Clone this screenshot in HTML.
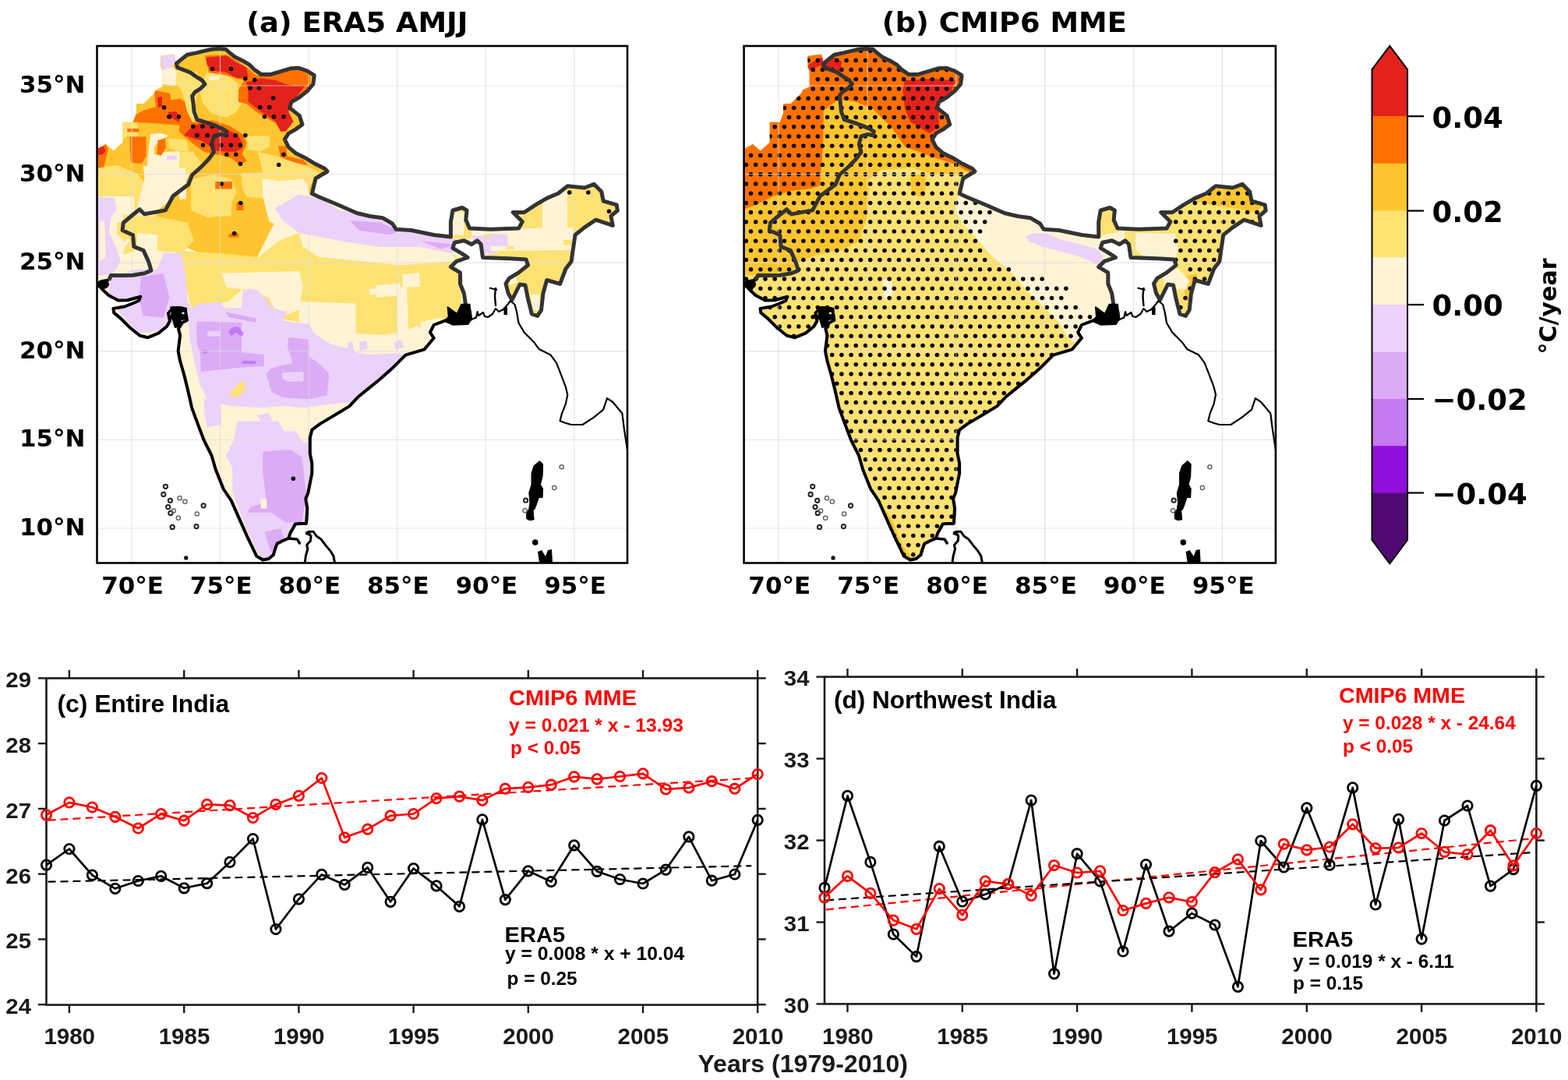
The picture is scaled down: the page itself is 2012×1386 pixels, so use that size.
<!DOCTYPE html><html><head><meta charset="utf-8"><style>
html,body{margin:0;padding:0;background:#fff;width:2012px;height:1386px;overflow:hidden}
svg{display:block}
.mt{font-family:"DejaVu Sans",sans-serif;font-weight:bold;font-size:29.5px;fill:#000}
.ttl{font-family:"DejaVu Sans",sans-serif;font-weight:bold;font-size:35.5px;fill:#000}
.cb{font-family:"DejaVu Sans",sans-serif;font-weight:bold;font-size:37px;fill:#000}
.cbl{font-family:"DejaVu Sans",sans-serif;font-weight:bold;font-size:30px;fill:#000}
.tl{font-family:"Liberation Sans",sans-serif;font-weight:bold;font-size:28.5px;fill:#1a1a1a}
.xt{font-family:"Liberation Sans",sans-serif;font-weight:bold;font-size:29.5px;fill:#1a1a1a}
.pt{font-family:"Liberation Sans",sans-serif;font-weight:bold;font-size:31px;fill:#000}
.rh{font-family:"Liberation Sans",sans-serif;font-weight:bold;font-size:28.3px;fill:#f00}
.rs{font-family:"Liberation Sans",sans-serif;font-weight:bold;font-size:24.4px;fill:#f00}
.kh{font-family:"Liberation Sans",sans-serif;font-weight:bold;font-size:27.6px;fill:#000}
.ks{font-family:"Liberation Sans",sans-serif;font-weight:bold;font-size:24.4px;fill:#000}
.xl{font-family:"Liberation Sans",sans-serif;font-weight:bold;font-size:31.5px;fill:#1a1a1a}
</style></head><body>
<svg width="2012" height="1386" viewBox="0 0 2012 1386">
<defs>
<clipPath id="frame0"><rect x="124.5" y="59.0" width="680.5" height="663.5"/></clipPath>
<clipPath id="data0"><polygon points="139.8,359.4 142.4,353.3 156.0,353.5 170.6,353.3 185.3,350.8 193.9,347.1 192.0,340.0 190.2,334.9 184.1,321.4 171.8,316.5 170.6,301.8 157.1,295.6 158.3,285.8 170.0,276.0 179.2,268.7 185.3,274.8 212.3,269.9 222.1,251.5 241.7,236.8 246.6,224.5 258.9,213.5 268.0,204.0 274.4,195.2 271.8,185.1 274.4,175.0 283.2,172.4 289.5,173.7 290.8,168.7 284.5,164.9 275.6,161.1 265.5,157.3 252.9,153.5 249.1,143.4 247.8,130.8 246.6,123.2 250.4,118.1 258.0,113.1 263.0,108.0 259.2,103.0 252.9,99.2 244.0,92.9 234.0,89.1 227.6,86.6 226.4,81.5 234.0,75.2 240.3,70.2 252.9,67.6 263.0,65.1 271.8,63.2 280.7,62.6 289.5,63.2 294.6,67.6 300.9,72.7 311.0,77.7 319.8,82.8 326.1,89.1 335.0,95.4 347.6,95.4 360.2,91.6 372.8,87.8 383.0,87.2 394.3,91.0 403.2,96.7 401.9,108.0 394.3,116.9 383.0,125.7 374.1,130.8 371.6,138.3 377.9,143.4 384.2,148.4 388.0,159.8 379.2,166.1 370.3,171.2 365.3,178.8 370.3,188.9 379.2,196.4 391.8,202.7 404.4,210.3 417.0,216.6 420.0,220.0 405.0,229.0 400.4,248.4 410.0,253.0 434.0,263.0 458.0,273.5 475.0,277.5 491.4,279.8 503.5,287.0 508.3,294.3 527.7,295.5 556.7,301.5 578.4,304.0 578.4,284.6 580.9,270.0 593.0,266.5 599.0,270.0 597.8,282.2 602.6,293.0 629.2,294.3 665.5,293.0 670.3,284.6 658.2,272.5 672.7,272.5 687.2,262.8 701.7,254.4 716.2,248.3 728.3,238.7 750.0,241.0 762.2,236.3 771.8,246.0 774.2,258.0 791.2,262.8 792.4,270.0 784.0,277.4 786.3,289.4 764.6,282.2 750.0,291.9 738.0,301.5 733.1,335.4 725.9,345.0 718.6,364.4 701.7,359.5 696.9,376.5 694.5,398.2 689.6,405.5 682.4,403.0 677.5,383.7 674.0,366.0 667.0,365.0 663.0,373.0 657.0,385.0 652.0,376.0 649.0,364.0 653.4,357.1 665.5,349.9 677.5,340.2 675.1,333.0 653.4,331.7 619.5,330.5 617.1,313.6 612.3,308.8 605.0,313.6 595.4,308.8 583.3,311.2 580.9,318.4 593.0,325.7 600.2,330.5 585.7,335.4 578.4,342.6 590.5,349.9 590.5,364.4 595.4,376.5 597.8,393.4 597.8,393.4 603.0,400.0 604.0,410.0 596.0,413.0 585.0,412.0 576.0,409.7 556.7,417.0 551.9,426.6 556.7,433.8 544.6,448.3 520.4,455.6 503.5,472.5 484.2,489.4 472.1,499.1 460.0,509.0 448.3,521.4 435.7,529.0 423.0,536.6 410.4,544.1 400.3,551.7 397.8,561.8 397.8,582.0 400.3,594.6 400.3,607.3 395.3,632.5 392.3,640.0 394.2,652.3 393.6,664.5 393.0,671.9 384.4,672.0 378.9,672.5 376.0,678.0 372.5,684.0 370.3,690.9 362.9,694.0 355.6,697.6 353.1,704.4 350.7,712.3 344.5,717.3 337.2,718.5 329.2,713.6 317.0,688.1 306.9,665.4 296.8,642.6 286.7,627.5 276.6,602.2 271.5,584.5 261.4,564.3 253.8,544.1 246.3,523.9 241.2,501.2 236.2,481.0 231.1,463.3 228.6,450.7 231.1,430.5 229.0,422.0 234.0,414.0 240.0,411.0 238.0,399.0 230.0,395.0 222.0,395.0 216.0,402.0 218.0,412.0 214.0,419.0 203.3,427.6 189.8,433.2 179.5,430.8 167.6,421.3 155.7,409.4 146.2,401.4 145.4,395.9 159.7,393.5 170.0,389.5 178.0,386.0 180.3,380.8 163.7,385.2 151.7,385.6 139.8,379.2 131.9,372.0 127.0,366.0 131.0,361.0 139.8,359.4"/><polygon points="123.5,190.0 126.2,190.3 135.9,184.9 145.6,193.5 157.5,182.7 157.5,156.7 170.5,156.7 174.9,144.8 174.9,132.9 184.6,132.9 197.6,120.0 199.8,115.6 208.4,111.3 208.4,90.7 206.3,85.3 206.0,72.0 216.0,70.5 224.0,70.0 226.4,81.5 227.6,86.6 234.0,89.1 244.0,92.9 252.9,99.2 259.2,103.0 263.0,108.0 258.0,113.1 250.4,118.1 246.6,123.2 247.8,130.8 249.1,143.4 252.9,153.5 265.5,157.3 275.6,161.1 284.5,164.9 290.8,168.7 289.5,173.7 283.2,172.4 274.4,175.0 271.8,185.1 274.4,195.2 268.0,204.0 258.9,213.5 246.6,224.5 241.7,236.8 222.1,251.5 212.3,269.9 185.3,274.8 179.2,268.7 170.0,276.0 158.3,285.8 157.1,295.6 170.6,301.8 171.8,316.5 184.1,321.4 190.2,334.9 192.0,340.0 193.9,347.1 185.3,350.8 170.6,353.3 156.0,353.5 142.4,353.3 139.8,359.4 131.0,361.0 123.5,362.0"/></clipPath>
<clipPath id="frame830"><rect x="954.5" y="59.0" width="680.5" height="663.5"/></clipPath>
<clipPath id="data830"><polygon points="969.8,359.4 972.4,353.3 986.0,353.5 1000.6,353.3 1015.3,350.8 1023.9,347.1 1022.0,340.0 1020.2,334.9 1014.1,321.4 1001.8,316.5 1000.6,301.8 987.1,295.6 988.3,285.8 1000.0,276.0 1009.2,268.7 1015.3,274.8 1042.3,269.9 1052.1,251.5 1071.7,236.8 1076.6,224.5 1088.9,213.5 1098.0,204.0 1104.4,195.2 1101.8,185.1 1104.4,175.0 1113.2,172.4 1119.5,173.7 1120.8,168.7 1114.5,164.9 1105.6,161.1 1095.5,157.3 1082.9,153.5 1079.1,143.4 1077.8,130.8 1076.6,123.2 1080.4,118.1 1088.0,113.1 1093.0,108.0 1089.2,103.0 1082.9,99.2 1074.0,92.9 1064.0,89.1 1057.6,86.6 1056.4,81.5 1064.0,75.2 1070.3,70.2 1082.9,67.6 1093.0,65.1 1101.8,63.2 1110.7,62.6 1119.5,63.2 1124.6,67.6 1130.9,72.7 1141.0,77.7 1149.8,82.8 1156.1,89.1 1165.0,95.4 1177.6,95.4 1190.2,91.6 1202.8,87.8 1213.0,87.2 1224.3,91.0 1233.2,96.7 1231.9,108.0 1224.3,116.9 1213.0,125.7 1204.1,130.8 1201.6,138.3 1207.9,143.4 1214.2,148.4 1218.0,159.8 1209.2,166.1 1200.3,171.2 1195.3,178.8 1200.3,188.9 1209.2,196.4 1221.8,202.7 1234.4,210.3 1247.0,216.6 1250.0,220.0 1235.0,229.0 1230.4,248.4 1240.0,253.0 1264.0,263.0 1288.0,273.5 1305.0,277.5 1321.4,279.8 1333.5,287.0 1338.3,294.3 1357.7,295.5 1386.7,301.5 1408.4,304.0 1408.4,284.6 1410.9,270.0 1423.0,266.5 1429.0,270.0 1427.8,282.2 1432.6,293.0 1459.2,294.3 1495.5,293.0 1500.3,284.6 1488.2,272.5 1502.7,272.5 1517.2,262.8 1531.7,254.4 1546.2,248.3 1558.3,238.7 1580.0,241.0 1592.2,236.3 1601.8,246.0 1604.2,258.0 1621.2,262.8 1622.4,270.0 1614.0,277.4 1616.3,289.4 1594.6,282.2 1580.0,291.9 1568.0,301.5 1563.1,335.4 1555.9,345.0 1548.6,364.4 1531.7,359.5 1526.9,376.5 1524.5,398.2 1519.6,405.5 1512.4,403.0 1507.5,383.7 1504.0,366.0 1497.0,365.0 1493.0,373.0 1487.0,385.0 1482.0,376.0 1479.0,364.0 1483.4,357.1 1495.5,349.9 1507.5,340.2 1505.1,333.0 1483.4,331.7 1449.5,330.5 1447.1,313.6 1442.3,308.8 1435.0,313.6 1425.4,308.8 1413.3,311.2 1410.9,318.4 1423.0,325.7 1430.2,330.5 1415.7,335.4 1408.4,342.6 1420.5,349.9 1420.5,364.4 1425.4,376.5 1427.8,393.4 1427.8,393.4 1433.0,400.0 1434.0,410.0 1426.0,413.0 1415.0,412.0 1406.0,409.7 1386.7,417.0 1381.9,426.6 1386.7,433.8 1374.6,448.3 1350.4,455.6 1333.5,472.5 1314.2,489.4 1302.1,499.1 1290.0,509.0 1278.3,521.4 1265.7,529.0 1253.0,536.6 1240.4,544.1 1230.3,551.7 1227.8,561.8 1227.8,582.0 1230.3,594.6 1230.3,607.3 1225.3,632.5 1222.3,640.0 1224.2,652.3 1223.6,664.5 1223.0,671.9 1214.4,672.0 1208.9,672.5 1206.0,678.0 1202.5,684.0 1200.3,690.9 1192.9,694.0 1185.6,697.6 1183.1,704.4 1180.7,712.3 1174.5,717.3 1167.2,718.5 1159.2,713.6 1147.0,688.1 1136.9,665.4 1126.8,642.6 1116.7,627.5 1106.6,602.2 1101.5,584.5 1091.4,564.3 1083.8,544.1 1076.3,523.9 1071.2,501.2 1066.2,481.0 1061.1,463.3 1058.6,450.7 1061.1,430.5 1059.0,422.0 1064.0,414.0 1070.0,411.0 1068.0,399.0 1060.0,395.0 1052.0,395.0 1046.0,402.0 1048.0,412.0 1044.0,419.0 1033.3,427.6 1019.8,433.2 1009.5,430.8 997.6,421.3 985.7,409.4 976.2,401.4 975.4,395.9 989.7,393.5 1000.0,389.5 1008.0,386.0 1010.3,380.8 993.7,385.2 981.7,385.6 969.8,379.2 961.9,372.0 957.0,366.0 961.0,361.0 969.8,359.4"/><polygon points="953.5,190.0 956.2,190.3 965.9,184.9 975.6,193.5 987.5,182.7 987.5,156.7 1000.5,156.7 1004.9,144.8 1004.9,132.9 1014.6,132.9 1027.6,120.0 1029.8,115.6 1038.4,111.3 1038.4,90.7 1036.3,85.3 1036.0,72.0 1046.0,70.5 1054.0,70.0 1056.4,81.5 1057.6,86.6 1064.0,89.1 1074.0,92.9 1082.9,99.2 1089.2,103.0 1093.0,108.0 1088.0,113.1 1080.4,118.1 1076.6,123.2 1077.8,130.8 1079.1,143.4 1082.9,153.5 1095.5,157.3 1105.6,161.1 1114.5,164.9 1120.8,168.7 1119.5,173.7 1113.2,172.4 1104.4,175.0 1101.8,185.1 1104.4,195.2 1098.0,204.0 1088.9,213.5 1076.6,224.5 1071.7,236.8 1052.1,251.5 1042.3,269.9 1015.3,274.8 1009.2,268.7 1000.0,276.0 988.3,285.8 987.1,295.6 1000.6,301.8 1001.8,316.5 1014.1,321.4 1020.2,334.9 1022.0,340.0 1023.9,347.1 1015.3,350.8 1000.6,353.3 986.0,353.5 972.4,353.3 969.8,359.4 961.0,361.0 953.5,362.0"/></clipPath>
</defs>
<text transform="translate(458.3,40.8) scale(1.037,1)" class="ttl" text-anchor="middle">(a) ERA5 AMJJ</text>
<text transform="translate(1288.8,40.8) scale(1.037,1)" class="ttl" text-anchor="middle">(b) CMIP6 MME</text>
<g clip-path="url(#frame0)">
<g clip-path="url(#data0)">
<rect x="124.5" y="59.0" width="680.5" height="663.5" fill="#fef4d5"/>
<polygon points="124.0,150.0 200.0,60.0 420.0,60.0 420.0,220.0 405.0,230.0 400.0,250.0 370.0,258.0 350.0,290.0 330.0,330.0 300.0,335.0 270.0,330.0 240.0,318.0 200.0,300.0 160.0,290.0 124.0,285.0" fill="#fdc52f"/>
<polygon points="124.0,215.0 150.0,212.0 175.0,222.0 190.0,240.0 200.0,270.0 205.0,300.0 180.0,320.0 150.0,330.0 124.0,330.0" fill="#fde273"/>
<polygon points="124.0,252.0 172.0,252.0 172.0,300.0 160.0,318.0 155.0,340.0 140.0,356.0 124.0,356.0" fill="#fef4d5"/>
<polygon points="126.5,254.0 146.0,256.4 148.5,267.4 142.4,279.7 140.0,298.0 148.5,316.5 154.7,334.9 148.5,347.1 136.3,353.3 124.0,353.3 124.0,254.0" fill="#ecd1fa"/>
<polygon points="130.0,257.0 145.0,258.0 146.0,262.0 131.0,262.0" fill="#dcabf5"/>
<polygon points="128.0,285.0 134.0,283.0 136.0,330.0 128.0,335.0" fill="#fef4d5"/>
<polygon points="150.0,286.0 168.0,283.0 171.0,300.0 160.0,310.0 150.0,300.0" fill="#fde273"/>
<polygon points="193.3,172.0 207.1,170.8 216.4,174.3 204.8,180.0 197.9,189.3 197.9,198.5 210.6,195.0 227.9,193.9 239.5,200.8 244.1,221.6 237.2,235.5 227.9,247.0 216.4,258.6 204.8,267.8 193.3,280.0 173.6,280.0 178.3,258.6 184.0,235.5 188.7,212.4 191.0,189.3" fill="#fef4d5"/>
<polygon points="214.1,199.7 226.8,199.7 226.8,205.4 214.1,205.4" fill="#ecd1fa"/>
<polygon points="186.3,214.7 193.3,214.7 193.3,221.6 186.3,221.6" fill="#ecd1fa"/>
<polygon points="126.3,252.8 147.1,253.9 149.4,270.1 141.3,280.0 126.3,280.0" fill="#ecd1fa"/>
<polygon points="156.3,154.6 176.0,155.8 177.1,175.4 164.4,174.3 156.3,180.0" fill="#fde273"/>
<polygon points="216.4,177.7 239.5,180.0 241.8,193.9 227.9,193.9 216.4,189.3" fill="#fde273"/>
<polygon points="245.2,229.7 274.1,223.9 297.2,229.7 304.0,247.0 291.4,270.1 268.3,280.0 245.2,270.1" fill="#fde273"/>
<polygon points="197.6,115.6 218.2,119.9 219.2,128.6 231.1,126.4 237.6,130.8 246.3,141.6 246.3,158.9 232.2,161.1 210.6,158.9 188.9,157.8 170.5,156.7 174.9,147.0 184.6,141.6 199.8,137.3" fill="#fe7100"/>
<polygon points="206.0,72.0 228.0,70.0 226.0,80.0 218.0,88.0 208.0,90.0" fill="#ecd1fa"/>
<polygon points="208.0,90.0 222.0,86.0 230.0,95.0 232.0,105.0 224.0,110.0 208.0,108.0" fill="#fef4d5"/>
<polygon points="202.0,125.0 208.0,124.0 208.0,137.0 203.0,138.0" fill="#e3221c"/>
<polygon points="216.0,144.0 226.0,143.0 234.0,153.0 230.0,157.0 222.0,152.0 216.0,150.0" fill="#e3221c"/>
<polygon points="166.7,175.4 187.5,175.4 187.5,200.8 181.7,210.1 167.9,208.9 166.7,189.3" fill="#fe7100"/>
<polygon points="202.5,180.0 211.7,177.7 212.9,189.3 207.1,199.7 201.4,198.5" fill="#fe7100"/>
<polygon points="163.3,165.0 178.3,165.0 178.3,169.6 163.3,169.6" fill="#fe7100"/>
<polygon points="124.0,185.8 135.5,184.1 139.0,191.6 136.7,200.8 133.2,214.7 124.0,215.8" fill="#fe7100"/>
<polygon points="124.0,189.3 133.2,188.1 135.5,193.9 130.9,198.5 124.0,198.5" fill="#e3221c"/>
<polygon points="227.6,86.6 252.9,92.9 263.0,108.0 252.9,120.7 250.4,137.1 256.7,153.5 246.6,156.0 240.3,143.4 233.9,118.1 225.1,105.5" fill="#fde273"/>
<polygon points="265.5,92.9 290.8,96.7 303.4,105.5 311.0,130.8 303.4,143.4 290.8,151.0 271.8,145.9 259.2,130.8 255.4,111.8" fill="#fde273"/>
<polygon points="268.0,97.9 280.7,97.9 280.7,103.0 268.0,103.0" fill="#fef4d5"/>
<polygon points="263.0,71.4 290.8,70.2 303.4,77.7 318.5,87.8 328.7,96.7 341.3,96.7 360.2,91.6 379.2,87.8 398.1,92.9 398.1,115.6 379.2,133.3 370.3,143.4 372.8,162.3 360.2,168.7 353.9,158.5 328.7,143.4 316.0,133.3 305.9,130.8 305.9,115.6 313.5,103.0 290.8,96.7 268.0,92.9" fill="#fe7100"/>
<polygon points="264.2,73.9 290.8,71.4 303.4,80.3 316.0,86.6 318.5,99.2 303.4,100.5 290.8,92.9 271.8,90.4 265.5,82.8" fill="#e3221c"/>
<polygon points="316.0,105.5 335.0,100.5 353.9,103.0 366.5,108.0 379.2,110.6 391.8,109.3 379.2,125.7 372.8,133.3 370.3,143.4 376.6,156.0 366.5,168.7 360.2,168.7 353.9,156.0 335.0,143.4 318.5,130.8 318.5,118.1" fill="#e3221c"/>
<polygon points="366.5,96.7 385.5,92.9 394.3,103.0 385.5,108.0 372.8,108.0" fill="#fe7100"/>
<polygon points="230.0,148.7 244.4,157.3 273.3,154.4 295.0,161.7 310.8,171.8 316.6,183.3 310.8,197.7 316.6,206.4 307.9,212.2 297.8,203.5 284.8,199.2 273.3,197.7 261.8,194.8 251.7,187.6 235.8,174.6 230.0,168.9" fill="#fe7100"/>
<polygon points="235.8,173.2 247.3,161.7 261.8,157.3 277.6,161.7 290.6,166.0 305.1,173.2 310.8,183.3 310.8,190.5 302.2,194.8 290.6,194.8 277.6,193.4 267.5,186.2 258.9,180.4 247.3,177.5" fill="#e3221c"/>
<polygon points="357.0,187.6 367.1,187.6 368.6,200.6 388.8,205.0 396.0,212.2 374.3,207.8 359.9,202.1" fill="#fe7100"/>
<polygon points="276.2,233.1 297.8,233.1 297.8,242.5 276.2,242.5" fill="#fe7100"/>
<polygon points="303.6,259.8 312.3,259.8 312.3,269.9 303.6,269.9" fill="#fe7100"/>
<polygon points="293.5,301.7 299.3,297.3 306.5,300.2 306.5,304.5 293.5,304.5" fill="#fe7100"/>
<polygon points="316.6,174.6 345.5,174.6 346.9,187.6 333.9,194.8 318.0,192.0" fill="#fde273"/>
<polygon points="309.4,222.3 352.7,220.8 357.0,241.0 345.5,255.5 316.6,252.6 310.8,241.0" fill="#fde273"/>
<polygon points="247.3,246.8 273.3,243.9 297.8,249.7 296.4,277.1 273.3,278.6 248.8,269.9" fill="#fde273"/>
<polygon points="331.0,194.8 359.9,202.1 396.0,215.1 410.4,220.8 396.0,241.0 359.9,233.8 338.3,226.6" fill="#fde273"/>
<polygon points="336.8,229.5 359.9,232.4 388.8,229.5 396.0,241.0 397.4,252.6 374.3,264.1 367.1,277.1 359.9,291.6 345.5,284.3 339.7,262.7 336.8,248.3" fill="#fef4d5"/>
<polygon points="230.0,194.8 247.3,194.8 258.9,209.3 247.3,220.8 230.0,226.6" fill="#fde273"/>
<polygon points="230.0,220.8 238.7,220.8 238.7,255.5 230.0,255.5" fill="#fef4d5"/>
<polygon points="157.8,275.3 201.9,277.9 240.9,285.7 248.7,309.1 233.1,324.7 201.9,322.1 175.9,314.3 160.4,303.9" fill="#fde273"/>
<polygon points="175.9,298.7 201.9,301.3 201.9,322.1 175.9,319.5" fill="#fef4d5"/>
<polygon points="183.7,213.0 238.3,215.6 235.7,233.8 186.3,233.8" fill="#fef4d5"/>
<polygon points="227.9,322.1 279.8,324.7 331.8,329.9 357.8,309.1 383.7,298.7 435.7,309.1 487.6,316.9 539.6,316.9 578.5,324.7 594.1,335.1 591.5,387.0 586.3,415.6 565.6,420.8 513.6,449.4 461.7,449.4 422.7,444.2 396.7,433.8 383.7,413.0 352.6,407.8 331.8,381.8 311.0,371.4 292.8,387.0 246.1,397.4 235.7,355.8" fill="#fde273"/>
<polygon points="285.0,350.6 383.7,348.1 388.9,366.2 383.7,397.4 357.8,407.8 344.8,381.8 313.6,371.4 290.2,368.8" fill="#fef4d5"/>
<polygon points="383.7,298.7 435.7,309.1 487.6,316.9 539.6,316.9 578.5,324.7 586.3,335.1 513.6,340.3 461.7,335.1 409.7,329.9 388.9,316.9" fill="#fef4d5"/>
<polygon points="383.7,387.0 456.5,389.6 456.5,449.4 422.7,444.2 396.7,433.8 383.7,415.6" fill="#fef4d5"/>
<polygon points="513.6,423.4 581.1,415.6 578.5,446.8 513.6,453.2" fill="#fef4d5"/>
<polygon points="482.4,366.2 513.6,363.6 513.6,379.2 482.4,381.8" fill="#fef4d5"/>
<polygon points="539.6,413.0 565.6,407.8 581.1,415.6 565.6,426.0 539.6,433.8" fill="#fef4d5"/>
<polygon points="352.6,267.5 383.7,249.4 409.7,254.5 435.7,270.1 474.6,277.9 513.6,288.3 552.6,301.3 586.3,306.5 591.5,322.1 578.5,324.7 539.6,316.9 487.6,316.9 435.7,309.1 383.7,298.7 363.0,283.1" fill="#ecd1fa"/>
<polygon points="448.7,283.1 487.6,285.7 513.6,296.1 500.6,301.3 461.7,296.1" fill="#dcabf5"/>
<polygon points="539.6,309.1 565.6,311.7 586.3,314.3 565.6,319.5" fill="#dcabf5"/>
<polygon points="509.0,370.0 522.0,366.0 524.0,420.0 520.0,449.0 510.0,449.0" fill="#fef4d5"/>
<polygon points="516.0,352.0 538.0,350.0 539.0,368.0 517.0,369.0" fill="#fef4d5"/>
<polygon points="474.0,371.0 486.0,370.0 486.0,378.0 474.0,378.0" fill="#fef4d5"/>
<polygon points="440.0,430.0 456.0,428.0 490.0,430.0 515.0,427.0 535.0,418.0 545.0,425.0 540.0,445.0 520.0,455.0 440.0,455.0" fill="#fef4d5"/>
<polygon points="446.0,440.0 452.0,438.0 455.0,452.0 446.0,452.0" fill="#ecd1fa"/>
<polygon points="461.0,439.0 470.0,437.0 472.0,448.0 462.0,450.0" fill="#ecd1fa"/>
<polygon points="139.6,355.8 175.9,345.5 201.9,345.5 209.7,324.7 233.1,324.7 238.3,355.8 240.9,387.0 246.1,397.4 233.1,413.0 209.7,423.4 175.9,428.6 155.2,402.6 139.6,381.8" fill="#ecd1fa"/>
<polygon points="181.1,355.8 209.7,350.6 217.5,381.8 209.7,407.8 183.7,405.2 178.5,381.8" fill="#dcabf5"/>
<polygon points="240.0,404.0 245.0,398.0 250.0,392.0 256.5,389.2 282.6,387.8 289.4,396.0 310.0,394.7 311.3,374.1 321.0,370.0 330.0,372.0 341.5,383.7 348.4,394.7 368.9,400.2 362.1,411.1 375.8,413.9 396.3,415.2 403.2,427.6 423.7,441.3 444.3,446.8 458.0,452.2 475.0,455.0 513.6,453.2 530.0,460.0 470.0,520.0 444.3,516.7 416.9,519.4 389.5,523.5 362.1,520.8 334.6,523.5 293.5,520.8 266.1,513.9 263.4,507.1 256.5,493.4 249.7,465.9 244.2,438.5 241.4,411.1" fill="#ecd1fa"/>
<polygon points="252.4,412.5 310.0,413.9 310.0,452.2 338.8,455.0 338.8,470.1 310.0,471.4 257.9,476.9 256.5,452.2 252.4,438.5" fill="#dcabf5"/>
<polygon points="266.1,424.8 282.6,424.8 282.6,431.7 266.1,431.7" fill="#ecd1fa"/>
<polygon points="289.4,400.2 329.2,408.4 327.8,413.9 293.5,407.0" fill="#dcabf5"/>
<polygon points="370.3,433.0 396.3,435.8 396.3,457.7 408.7,465.9 422.4,479.6 419.6,507.1 396.3,512.5 362.1,509.8 348.4,503.0 341.5,479.6 348.4,472.8 362.1,468.7 375.8,465.9 368.9,445.4" fill="#dcabf5"/>
<polygon points="362.0,478.0 389.5,477.0 389.5,489.0 370.0,490.0 362.0,486.0" fill="#ecd1fa"/>
<polygon points="293.5,425.0 298.0,420.0 306.0,419.3 312.7,428.0 310.0,431.7 303.0,427.0 296.0,431.7" fill="#c47af0"/>
<polygon points="311.0,463.0 328.0,463.0 328.0,467.0 311.0,467.0" fill="#c47af0"/>
<polygon points="260.6,449.5 266.0,449.5 266.0,453.6 260.6,453.6" fill="#c47af0"/>
<polygon points="293.5,507.1 304.0,494.0 312.7,487.9 315.0,500.0 305.0,510.0" fill="#fde273"/>
<polygon points="505.0,440.0 515.0,436.0 518.0,446.0 508.0,449.0" fill="#ecd1fa"/>
<polygon points="304.7,540.6 356.6,540.6 364.7,553.6 379.4,553.6 389.1,568.2 400.0,566.0 400.0,640.0 393.0,672.0 378.0,672.0 370.0,690.0 355.0,697.0 350.0,712.0 344.0,717.0 336.0,718.0 327.4,702.9 316.0,678.6 306.3,654.2 298.2,629.9 298.2,600.6 290.0,584.4 299.8,564.9" fill="#ecd1fa"/>
<polygon points="262.0,512.0 283.0,514.0 284.0,545.0 266.0,548.0 262.0,530.0" fill="#ecd1fa"/>
<polygon points="330.0,533.0 345.0,530.0 350.0,540.0 335.0,541.0" fill="#ecd1fa"/>
<polygon points="337.2,579.5 372.5,577.0 387.7,587.1 392.7,632.5 387.7,670.4 367.5,670.4 347.3,657.8 317.0,657.8 322.0,650.2 342.2,645.2 337.2,607.3" fill="#dcabf5"/>
<polygon points="339.7,683.0 359.9,678.0 367.5,698.2 347.3,708.3" fill="#dcabf5"/>
<polygon points="334.6,640.1 342.2,640.1 342.2,652.7 334.6,652.7" fill="#fef4d5"/>
<polygon points="576.0,260.4 605.0,260.4 605.0,306.4 576.0,306.4" fill="#fde273"/>
<polygon points="578.4,272.5 595.4,272.5 595.4,301.5 578.4,301.5" fill="#fef4d5"/>
<polygon points="619.5,301.5 677.5,291.9 701.7,253.2 738.0,233.8 774.2,236.3 798.4,260.4 793.6,284.6 738.0,301.5 733.1,335.4 701.7,369.2 689.6,405.5 672.7,369.2 653.4,357.1 665.5,335.4 629.2,332.9" fill="#fde273"/>
<polygon points="605.0,301.5 629.2,303.9 643.7,311.2 638.9,325.7 619.5,325.7 609.9,316.0" fill="#ecd1fa"/>
<polygon points="640.0,230.0 800.0,230.0 800.0,410.0 640.0,410.0" fill="#fde273"/>
<polygon points="696.0,246.0 712.0,240.0 728.0,244.0 728.0,294.0 696.0,296.0" fill="#fef4d5"/>
<polygon points="630.0,294.0 736.0,292.0 736.0,321.0 630.0,322.0" fill="#fef4d5"/>
<polygon points="722.8,307.8 733.5,307.8 733.5,314.5 722.8,314.5" fill="#fde273"/>
<polygon points="650.0,316.0 660.0,316.0 660.0,320.0 650.0,320.0" fill="#fde273"/>
<polygon points="681.0,378.0 692.0,378.0 693.4,398.6 684.0,398.0" fill="#fef4d5"/>
<polygon points="650.0,356.0 660.0,352.0 664.0,362.0 655.0,366.0" fill="#fef4d5"/>
<polygon points="630.0,300.0 650.7,301.0 652.0,315.8 630.0,316.0" fill="#ecd1fa"/>
<g fill="#000"><circle cx="272.5" cy="88.5" r="2.75"/><circle cx="296.4" cy="88.5" r="2.75"/><circle cx="314.8" cy="101.1" r="2.75"/><circle cx="326.8" cy="102.4" r="2.75"/><circle cx="321.1" cy="113.1" r="2.75"/><circle cx="332.4" cy="113.1" r="2.75"/><circle cx="350.7" cy="125.7" r="2.75"/><circle cx="333.7" cy="137.7" r="2.75"/><circle cx="345.7" cy="137.7" r="2.75"/><circle cx="339.4" cy="149.7" r="2.75"/><circle cx="351.4" cy="149.7" r="2.75"/><circle cx="364.0" cy="149.7" r="2.75"/><circle cx="247.8" cy="162.3" r="2.75"/><circle cx="259.8" cy="162.3" r="2.75"/><circle cx="272.5" cy="162.3" r="2.75"/><circle cx="252.9" cy="173.7" r="2.75"/><circle cx="266.1" cy="173.7" r="2.75"/><circle cx="278.1" cy="173.7" r="2.75"/><circle cx="290.1" cy="173.7" r="2.75"/><circle cx="302.1" cy="173.7" r="2.75"/><circle cx="314.8" cy="173.7" r="2.75"/><circle cx="260.5" cy="186.3" r="2.75"/><circle cx="271.8" cy="186.3" r="2.75"/><circle cx="283.8" cy="186.3" r="2.75"/><circle cx="296.4" cy="186.3" r="2.75"/><circle cx="308.4" cy="186.3" r="2.75"/><circle cx="290.8" cy="198.3" r="2.75"/><circle cx="302.8" cy="198.3" r="2.75"/><circle cx="308.4" cy="210.3" r="2.75"/><circle cx="364.0" cy="198.3" r="2.75"/><circle cx="357.7" cy="211.6" r="2.75"/><circle cx="217.5" cy="149.7" r="2.75"/><circle cx="229.5" cy="149.7" r="2.75"/><circle cx="210.6" cy="137.9" r="2.75"/><circle cx="216.9" cy="149.8" r="2.75"/><circle cx="284.1" cy="236.0" r="2.75"/><circle cx="308.7" cy="260.5" r="2.75"/><circle cx="300.7" cy="299.5" r="2.75"/><circle cx="730.7" cy="247.1" r="2.75"/><circle cx="754.9" cy="247.1" r="2.75"/><circle cx="781.5" cy="271.3" r="2.75"/><circle cx="376.3" cy="614.3" r="2.75"/></g>
</g>
<line x1="168.9" y1="59.0" x2="168.9" y2="722.5" stroke="#dcdcdc" stroke-width="1.2" stroke-opacity="0.7"/>
<line x1="282.5" y1="59.0" x2="282.5" y2="722.5" stroke="#dcdcdc" stroke-width="1.2" stroke-opacity="0.7"/>
<line x1="396.1" y1="59.0" x2="396.1" y2="722.5" stroke="#dcdcdc" stroke-width="1.2" stroke-opacity="0.7"/>
<line x1="509.6" y1="59.0" x2="509.6" y2="722.5" stroke="#dcdcdc" stroke-width="1.2" stroke-opacity="0.7"/>
<line x1="623.2" y1="59.0" x2="623.2" y2="722.5" stroke="#dcdcdc" stroke-width="1.2" stroke-opacity="0.7"/>
<line x1="736.8" y1="59.0" x2="736.8" y2="722.5" stroke="#dcdcdc" stroke-width="1.2" stroke-opacity="0.7"/>
<line x1="124.5" y1="678.0" x2="805.0" y2="678.0" stroke="#dcdcdc" stroke-width="1.2" stroke-opacity="0.7"/>
<line x1="124.5" y1="564.4" x2="805.0" y2="564.4" stroke="#dcdcdc" stroke-width="1.2" stroke-opacity="0.7"/>
<line x1="124.5" y1="450.8" x2="805.0" y2="450.8" stroke="#dcdcdc" stroke-width="1.2" stroke-opacity="0.7"/>
<line x1="124.5" y1="337.2" x2="805.0" y2="337.2" stroke="#dcdcdc" stroke-width="1.2" stroke-opacity="0.7"/>
<line x1="124.5" y1="223.6" x2="805.0" y2="223.6" stroke="#dcdcdc" stroke-width="1.2" stroke-opacity="0.7"/>
<line x1="124.5" y1="110.0" x2="805.0" y2="110.0" stroke="#dcdcdc" stroke-width="1.2" stroke-opacity="0.7"/>
<polyline points="597.8,393.4 603.0,400.0 604.0,410.0 596.0,413.0 585.0,412.0 576.0,409.7 556.7,417.0 551.9,426.6 556.7,433.8 544.6,448.3 520.4,455.6 503.5,472.5 484.2,489.4 472.1,499.1 460.0,509.0 448.3,521.4 435.7,529.0 423.0,536.6 410.4,544.1 400.3,551.7 397.8,561.8 397.8,582.0 400.3,594.6 400.3,607.3 395.3,632.5 392.3,640.0 394.2,652.3 393.6,664.5 393.0,671.9 384.4,672.0 378.9,672.5 376.0,678.0 372.5,684.0 370.3,690.9 362.9,694.0 355.6,697.6 353.1,704.4 350.7,712.3 344.5,717.3 337.2,718.5 329.2,713.6 317.0,688.1 306.9,665.4 296.8,642.6 286.7,627.5 276.6,602.2 271.5,584.5 261.4,564.3 253.8,544.1 246.3,523.9 241.2,501.2 236.2,481.0 231.1,463.3 228.6,450.7 231.1,430.5 229.0,422.0 234.0,414.0 240.0,411.0 238.0,399.0 230.0,395.0 222.0,395.0 216.0,402.0 218.0,412.0 214.0,419.0 203.3,427.6 189.8,433.2 179.5,430.8 167.6,421.3 155.7,409.4 146.2,401.4 145.4,395.9 159.7,393.5 170.0,389.5 178.0,386.0 180.3,380.8 163.7,385.2 151.7,385.6 139.8,379.2 131.9,372.0 127.0,366.0 131.0,361.0 139.8,359.4" fill="none" stroke="#000" stroke-width="4" stroke-linejoin="round"/>
<polyline points="139.8,359.4 142.4,353.3 156.0,353.5 170.6,353.3 185.3,350.8 193.9,347.1 192.0,340.0 190.2,334.9 184.1,321.4 171.8,316.5 170.6,301.8 157.1,295.6 158.3,285.8 170.0,276.0 179.2,268.7 185.3,274.8 212.3,269.9 222.1,251.5 241.7,236.8 246.6,224.5 258.9,213.5 268.0,204.0 274.4,195.2 271.8,185.1 274.4,175.0 283.2,172.4 289.5,173.7 290.8,168.7 284.5,164.9 275.6,161.1 265.5,157.3 252.9,153.5 249.1,143.4 247.8,130.8 246.6,123.2 250.4,118.1 258.0,113.1 263.0,108.0 259.2,103.0 252.9,99.2 244.0,92.9 234.0,89.1 227.6,86.6 226.4,81.5 234.0,75.2 240.3,70.2 252.9,67.6 263.0,65.1 271.8,63.2 280.7,62.6 289.5,63.2 294.6,67.6 300.9,72.7 311.0,77.7 319.8,82.8 326.1,89.1 335.0,95.4 347.6,95.4 360.2,91.6 372.8,87.8 383.0,87.2 394.3,91.0 403.2,96.7 401.9,108.0 394.3,116.9 383.0,125.7 374.1,130.8 371.6,138.3 377.9,143.4 384.2,148.4 388.0,159.8 379.2,166.1 370.3,171.2 365.3,178.8 370.3,188.9 379.2,196.4 391.8,202.7 404.4,210.3 417.0,216.6 420.0,220.0 405.0,229.0 400.4,248.4 410.0,253.0 434.0,263.0 458.0,273.5 475.0,277.5 491.4,279.8 503.5,287.0 508.3,294.3 527.7,295.5 556.7,301.5 578.4,304.0 578.4,284.6 580.9,270.0 593.0,266.5 599.0,270.0 597.8,282.2 602.6,293.0 629.2,294.3 665.5,293.0 670.3,284.6 658.2,272.5 672.7,272.5 687.2,262.8 701.7,254.4 716.2,248.3 728.3,238.7 750.0,241.0 762.2,236.3 771.8,246.0 774.2,258.0 791.2,262.8 792.4,270.0 784.0,277.4 786.3,289.4 764.6,282.2 750.0,291.9 738.0,301.5 733.1,335.4 725.9,345.0 718.6,364.4 701.7,359.5 696.9,376.5 694.5,398.2 689.6,405.5 682.4,403.0 677.5,383.7 674.0,366.0 667.0,365.0 663.0,373.0 657.0,385.0 652.0,376.0 649.0,364.0 653.4,357.1 665.5,349.9 677.5,340.2 675.1,333.0 653.4,331.7 619.5,330.5 617.1,313.6 612.3,308.8 605.0,313.6 595.4,308.8 583.3,311.2 580.9,318.4 593.0,325.7 600.2,330.5 585.7,335.4 578.4,342.6 590.5,349.9 590.5,364.4 595.4,376.5 597.8,393.4" fill="none" stroke="#333" stroke-width="5" stroke-linejoin="round"/>
<polyline points="655.0,386.0 660.6,391.0 663.0,400.0 665.5,414.5 672.7,426.6 684.8,438.7 692.0,448.3 706.6,455.6 713.8,465.3 718.6,477.4 725.9,496.7 728.3,506.4 725.9,518.4 721.0,530.5 718.6,540.2 726.0,543.0 733.1,545.0 747.6,545.0 762.2,535.4 774.2,525.7 779.0,511.2 786.3,516.0 798.4,530.5 800.8,549.9 805.2,578.9" fill="none" stroke="#000" stroke-width="2.2" stroke-linejoin="round"/>
<polyline points="605.0,410.0 611.0,407.6 612.6,400.0 614.0,405.0 620.0,401.0 622.0,406.0 626.0,407.0 632.0,403.0 636.0,396.0 640.0,400.0 646.0,397.0 652.0,390.0 655.0,386.0" fill="none" stroke="#000" stroke-width="2.2" stroke-linejoin="round"/>
<ellipse cx="132" cy="365" rx="8" ry="6" fill="#000"/>
<polygon points="574.4,393.9 586.4,402.6 591.9,390.6 602.8,390.6 605.0,409.2 600.6,416.3 580.9,416.9 570.0,412.0 575.5,406.5" fill="#000" stroke="#000" stroke-width="1.5" stroke-linejoin="round"/>
<polyline points="628.0,369.5 638.0,372.0" fill="none" stroke="#000" stroke-width="2"/>
<polyline points="636.0,369.0 635.0,380.0 636.0,393.0" fill="none" stroke="#000" stroke-width="2.4"/>
<polygon points="646.5,394.0 651.0,394.0 651.0,404.0 646.5,404.0" fill="#000"/>
<polyline points="392.3,684.1 396.6,682.3 402.2,682.3 405.8,687.8 412.0,692.1 418.1,700.1 424.2,707.4 427.9,713.6 429.7,723.0" fill="none" stroke="#000" stroke-width="3" stroke-linejoin="round"/>
<polyline points="399.1,686.6 398.5,694.0 393.6,699.5 394.8,704.4 392.3,713.6 391.1,723.0" fill="none" stroke="#000" stroke-width="3" stroke-linejoin="round"/>
<polyline points="392.3,684.1 399.1,686.6" fill="none" stroke="#000" stroke-width="3.5"/>
<polyline points="370.9,690.9 381.3,692.1 384.4,697.0" fill="none" stroke="#000" stroke-width="3.5" stroke-linecap="round"/>
<polygon points="692.4,591.5 696.6,595.7 696.1,611.4 693.5,621.8 696.6,627.1 696.1,638.6 691.4,638.6 688.2,648.0 686.1,653.2 684.1,655.3 685.1,666.8 679.9,667.8 675.7,665.8 675.7,658.4 678.8,653.2 679.9,644.8 678.8,632.3 682.0,621.8 682.0,607.2 685.1,597.8" fill="#000" stroke="#000" stroke-width="1"/>
<circle cx="686.7" cy="696.1" r="3.8" fill="#000"/>
<polygon points="690.0,708.0 695.0,706.0 700.0,714.0 703.0,706.0 708.0,705.0 709.0,722.0 692.0,722.0" fill="#000"/>
<circle cx="238.7" cy="715.9" r="2.6" fill="#000"/>
<polygon points="218.0,393.5 232.0,393.0 240.0,395.0 240.0,400.0 233.0,401.0 234.0,403.0 241.0,404.0 241.0,410.0 233.0,411.0 231.0,420.0 224.0,421.0 221.0,411.0 218.0,408.0 220.0,400.0" fill="#000"/>
<circle cx="212.4" cy="624.3" r="2.6" fill="none" stroke="#222" stroke-width="2"/>
<circle cx="209.8" cy="634.4" r="2.6" fill="none" stroke="#222" stroke-width="2"/>
<circle cx="218.4" cy="642.3" r="2.6" fill="none" stroke="#222" stroke-width="2"/>
<circle cx="215.7" cy="650.6" r="2.6" fill="none" stroke="#222" stroke-width="2"/>
<circle cx="218.9" cy="658.4" r="2.6" fill="none" stroke="#222" stroke-width="2"/>
<circle cx="261.1" cy="648.8" r="2.6" fill="none" stroke="#222" stroke-width="2"/>
<circle cx="252" cy="675.6" r="2.6" fill="none" stroke="#222" stroke-width="2"/>
<circle cx="221.2" cy="676.4" r="2.6" fill="none" stroke="#222" stroke-width="2"/>
<circle cx="674.6" cy="642.2" r="2.6" fill="none" stroke="#222" stroke-width="2"/>
<circle cx="222.7" cy="655.4" r="2.6" fill="none" stroke="#555" stroke-width="1.3"/>
<circle cx="230.6" cy="639.2" r="2.6" fill="none" stroke="#555" stroke-width="1.3"/>
<circle cx="237.4" cy="643.8" r="2.6" fill="none" stroke="#555" stroke-width="1.3"/>
<circle cx="228.8" cy="664.7" r="2.6" fill="none" stroke="#555" stroke-width="1.3"/>
<circle cx="252.8" cy="659.4" r="2.6" fill="none" stroke="#555" stroke-width="1.3"/>
<circle cx="720.7" cy="599.3" r="2.6" fill="none" stroke="#555" stroke-width="1.3"/>
<circle cx="711.2" cy="626" r="2.6" fill="none" stroke="#555" stroke-width="1.3"/>
<circle cx="673.6" cy="655.3" r="2.6" fill="none" stroke="#555" stroke-width="1.3"/>
</g>
<rect x="124.5" y="59.0" width="680.5" height="663.5" fill="none" stroke="#000" stroke-width="2.6"/>
<text transform="translate(170.1,761.5) scale(1.05,1)" class="mt" text-anchor="middle">70°E</text>
<text transform="translate(283.7,761.5) scale(1.05,1)" class="mt" text-anchor="middle">75°E</text>
<text transform="translate(397.3,761.5) scale(1.05,1)" class="mt" text-anchor="middle">80°E</text>
<text transform="translate(510.8,761.5) scale(1.05,1)" class="mt" text-anchor="middle">85°E</text>
<text transform="translate(624.4,761.5) scale(1.05,1)" class="mt" text-anchor="middle">90°E</text>
<text transform="translate(738.0,761.5) scale(1.05,1)" class="mt" text-anchor="middle">95°E</text>
<text transform="translate(109.5,687.0) scale(1.05,1)" class="mt" text-anchor="end">10°N</text>
<text transform="translate(109.5,573.4) scale(1.05,1)" class="mt" text-anchor="end">15°N</text>
<text transform="translate(109.5,459.8) scale(1.05,1)" class="mt" text-anchor="end">20°N</text>
<text transform="translate(109.5,346.2) scale(1.05,1)" class="mt" text-anchor="end">25°N</text>
<text transform="translate(109.5,232.6) scale(1.05,1)" class="mt" text-anchor="end">30°N</text>
<text transform="translate(109.5,119.0) scale(1.05,1)" class="mt" text-anchor="end">35°N</text>
<g transform="matrix(1.00265,0,0,1,-2.43,0)">
<g clip-path="url(#frame830)">
<g clip-path="url(#data830)">
<rect x="954.5" y="59.0" width="680.5" height="663.5" fill="#fde273"/>
<polygon points="954.0,268.7 971.6,262.2 993.3,251.4 1014.9,244.9 1036.6,242.8 1051.7,238.4 1053.9,212.5 1056.0,180.0 1056.4,142.0 1075.7,127.5 1095.0,130.0 1119.2,139.6 1143.4,163.8 1160.3,188.0 1191.7,200.0 1228.0,212.1 1240.0,219.4 1230.0,225.0 1190.0,222.0 1170.0,215.0 1130.0,218.0 1114.0,230.0 1114.5,244.9 1112.3,277.4 1101.5,309.9 1079.9,320.7 1047.4,327.2 1025.8,335.8 1014.9,348.8 971.6,353.2 954.0,353.0" fill="#fdc52f"/>
<polygon points="1166.5,223.0 1188.0,223.0 1186.0,253.6 1170.0,250.0" fill="#fdc52f"/>
<polygon points="954.0,150.0 954.0,268.7 971.6,262.2 993.3,251.4 1014.9,244.9 1036.6,242.8 1051.7,238.4 1053.9,212.5 1056.0,180.0 1056.4,142.0 1075.7,127.5 1095.0,130.0 1119.2,139.6 1143.4,163.8 1160.3,188.0 1191.7,200.0 1228.0,212.1 1240.0,219.4 1260.0,230.0 1260.0,60.0 954.0,60.0" fill="#fe7100"/>
<polygon points="1032.0,87.0 1042.0,80.0 1056.0,72.0 1070.0,74.0 1080.0,79.0 1078.0,91.0 1059.0,91.0 1052.0,84.0 1037.0,91.0" fill="#e3221c"/>
<polygon points="1160.3,103.3 1191.7,100.9 1225.6,103.3 1215.9,127.5 1203.8,139.6 1203.8,163.8 1191.7,171.0 1167.5,156.5 1160.3,139.6 1157.9,115.4" fill="#e3221c"/>
<polygon points="1230.0,250.0 1225.4,265.0 1225.4,271.7 1234.9,287.6 1247.6,300.3 1263.5,319.4 1279.4,335.2 1295.2,347.9 1311.1,367.0 1327.0,382.9 1342.9,398.7 1358.7,414.6 1366.7,430.5 1374.6,438.4 1442.0,445.0 1442.0,250.0" fill="#fef4d5"/>
<polygon points="1404.0,260.0 1434.0,260.0 1434.0,298.0 1420.0,300.0 1404.0,306.0" fill="#fde273"/>
<polygon points="1314.3,303.5 1327.0,298.7 1342.9,300.3 1358.7,306.7 1382.5,313.0 1406.3,319.4 1414.3,328.9 1409.5,341.6 1398.4,335.2 1382.5,328.9 1358.7,322.5 1334.9,316.2 1319.0,309.8" fill="#ecd1fa"/>
<polygon points="1130.0,648.2 1143.9,665.5 1157.8,700.1 1171.6,717.4 1157.8,721.0 1137.0,682.8 1126.6,655.1" fill="#fdc52f"/>
<polygon points="1544.0,244.4 1590.9,236.9 1600.2,248.1 1619.0,263.2 1609.6,272.5 1581.5,266.9 1553.3,263.2 1530.8,257.5" fill="#fdc52f"/>
<polygon points="1515.8,355.1 1534.6,351.4 1530.8,388.9 1519.5,385.1" fill="#fdc52f"/>
<polygon points="1455.7,298.8 1506.4,300.0 1510.0,320.0 1506.4,332.6 1470.0,332.6 1455.7,320.0" fill="#fef4d5"/>
<polygon points="1487.6,347.6 1510.0,345.0 1525.2,360.0 1520.0,372.0 1495.0,370.0" fill="#fef4d5"/>
<polygon points="1132.0,360.0 1142.0,357.0 1146.0,372.0 1142.0,385.0 1134.0,383.0" fill="#fef4d5"/>
<g fill="#000"><circle cx="1104.0" cy="65.2" r="2.75"/><circle cx="1116.2" cy="65.2" r="2.75"/><circle cx="1036.8" cy="77.4" r="2.75"/><circle cx="1049.0" cy="77.4" r="2.75"/><circle cx="1073.4" cy="77.4" r="2.75"/><circle cx="1085.6" cy="77.4" r="2.75"/><circle cx="1097.8" cy="77.4" r="2.75"/><circle cx="1110.1" cy="77.4" r="2.75"/><circle cx="1122.3" cy="77.4" r="2.75"/><circle cx="1134.5" cy="77.4" r="2.75"/><circle cx="1042.9" cy="89.6" r="2.75"/><circle cx="1055.1" cy="89.6" r="2.75"/><circle cx="1067.3" cy="89.6" r="2.75"/><circle cx="1079.5" cy="89.6" r="2.75"/><circle cx="1091.7" cy="89.6" r="2.75"/><circle cx="1104.0" cy="89.6" r="2.75"/><circle cx="1116.2" cy="89.6" r="2.75"/><circle cx="1128.4" cy="89.6" r="2.75"/><circle cx="1140.6" cy="89.6" r="2.75"/><circle cx="1152.8" cy="89.6" r="2.75"/><circle cx="1201.7" cy="89.6" r="2.75"/><circle cx="1213.9" cy="89.6" r="2.75"/><circle cx="1049.0" cy="101.8" r="2.75"/><circle cx="1061.2" cy="101.8" r="2.75"/><circle cx="1073.4" cy="101.8" r="2.75"/><circle cx="1085.6" cy="101.8" r="2.75"/><circle cx="1097.8" cy="101.8" r="2.75"/><circle cx="1110.1" cy="101.8" r="2.75"/><circle cx="1122.3" cy="101.8" r="2.75"/><circle cx="1134.5" cy="101.8" r="2.75"/><circle cx="1146.7" cy="101.8" r="2.75"/><circle cx="1159.0" cy="101.8" r="2.75"/><circle cx="1171.2" cy="101.8" r="2.75"/><circle cx="1183.4" cy="101.8" r="2.75"/><circle cx="1195.6" cy="101.8" r="2.75"/><circle cx="1207.8" cy="101.8" r="2.75"/><circle cx="1220.1" cy="101.8" r="2.75"/><circle cx="1232.3" cy="101.8" r="2.75"/><circle cx="1042.9" cy="114.0" r="2.75"/><circle cx="1055.1" cy="114.0" r="2.75"/><circle cx="1067.3" cy="114.0" r="2.75"/><circle cx="1079.5" cy="114.0" r="2.75"/><circle cx="1091.7" cy="114.0" r="2.75"/><circle cx="1104.0" cy="114.0" r="2.75"/><circle cx="1116.2" cy="114.0" r="2.75"/><circle cx="1128.4" cy="114.0" r="2.75"/><circle cx="1140.6" cy="114.0" r="2.75"/><circle cx="1152.8" cy="114.0" r="2.75"/><circle cx="1165.1" cy="114.0" r="2.75"/><circle cx="1177.3" cy="114.0" r="2.75"/><circle cx="1189.5" cy="114.0" r="2.75"/><circle cx="1201.7" cy="114.0" r="2.75"/><circle cx="1213.9" cy="114.0" r="2.75"/><circle cx="1226.2" cy="114.0" r="2.75"/><circle cx="1024.5" cy="126.2" r="2.75"/><circle cx="1036.8" cy="126.2" r="2.75"/><circle cx="1049.0" cy="126.2" r="2.75"/><circle cx="1061.2" cy="126.2" r="2.75"/><circle cx="1073.4" cy="126.2" r="2.75"/><circle cx="1085.6" cy="126.2" r="2.75"/><circle cx="1097.8" cy="126.2" r="2.75"/><circle cx="1110.1" cy="126.2" r="2.75"/><circle cx="1122.3" cy="126.2" r="2.75"/><circle cx="1134.5" cy="126.2" r="2.75"/><circle cx="1146.7" cy="126.2" r="2.75"/><circle cx="1159.0" cy="126.2" r="2.75"/><circle cx="1171.2" cy="126.2" r="2.75"/><circle cx="1183.4" cy="126.2" r="2.75"/><circle cx="1195.6" cy="126.2" r="2.75"/><circle cx="1207.8" cy="126.2" r="2.75"/><circle cx="1006.2" cy="138.4" r="2.75"/><circle cx="1018.4" cy="138.4" r="2.75"/><circle cx="1030.6" cy="138.4" r="2.75"/><circle cx="1042.9" cy="138.4" r="2.75"/><circle cx="1055.1" cy="138.4" r="2.75"/><circle cx="1067.3" cy="138.4" r="2.75"/><circle cx="1079.5" cy="138.4" r="2.75"/><circle cx="1091.7" cy="138.4" r="2.75"/><circle cx="1104.0" cy="138.4" r="2.75"/><circle cx="1116.2" cy="138.4" r="2.75"/><circle cx="1128.4" cy="138.4" r="2.75"/><circle cx="1140.6" cy="138.4" r="2.75"/><circle cx="1152.8" cy="138.4" r="2.75"/><circle cx="1165.1" cy="138.4" r="2.75"/><circle cx="1177.3" cy="138.4" r="2.75"/><circle cx="1189.5" cy="138.4" r="2.75"/><circle cx="1201.7" cy="138.4" r="2.75"/><circle cx="1012.3" cy="150.6" r="2.75"/><circle cx="1024.5" cy="150.6" r="2.75"/><circle cx="1036.8" cy="150.6" r="2.75"/><circle cx="1049.0" cy="150.6" r="2.75"/><circle cx="1061.2" cy="150.6" r="2.75"/><circle cx="1073.4" cy="150.6" r="2.75"/><circle cx="1085.6" cy="150.6" r="2.75"/><circle cx="1097.8" cy="150.6" r="2.75"/><circle cx="1110.1" cy="150.6" r="2.75"/><circle cx="1122.3" cy="150.6" r="2.75"/><circle cx="1134.5" cy="150.6" r="2.75"/><circle cx="1146.7" cy="150.6" r="2.75"/><circle cx="1159.0" cy="150.6" r="2.75"/><circle cx="1171.2" cy="150.6" r="2.75"/><circle cx="1183.4" cy="150.6" r="2.75"/><circle cx="1195.6" cy="150.6" r="2.75"/><circle cx="1207.8" cy="150.6" r="2.75"/><circle cx="994.0" cy="162.8" r="2.75"/><circle cx="1006.2" cy="162.8" r="2.75"/><circle cx="1018.4" cy="162.8" r="2.75"/><circle cx="1030.6" cy="162.8" r="2.75"/><circle cx="1042.9" cy="162.8" r="2.75"/><circle cx="1055.1" cy="162.8" r="2.75"/><circle cx="1067.3" cy="162.8" r="2.75"/><circle cx="1079.5" cy="162.8" r="2.75"/><circle cx="1091.7" cy="162.8" r="2.75"/><circle cx="1104.0" cy="162.8" r="2.75"/><circle cx="1116.2" cy="162.8" r="2.75"/><circle cx="1128.4" cy="162.8" r="2.75"/><circle cx="1140.6" cy="162.8" r="2.75"/><circle cx="1152.8" cy="162.8" r="2.75"/><circle cx="1165.1" cy="162.8" r="2.75"/><circle cx="1177.3" cy="162.8" r="2.75"/><circle cx="1189.5" cy="162.8" r="2.75"/><circle cx="1201.7" cy="162.8" r="2.75"/><circle cx="987.9" cy="175.0" r="2.75"/><circle cx="1000.1" cy="175.0" r="2.75"/><circle cx="1012.3" cy="175.0" r="2.75"/><circle cx="1024.5" cy="175.0" r="2.75"/><circle cx="1036.8" cy="175.0" r="2.75"/><circle cx="1049.0" cy="175.0" r="2.75"/><circle cx="1061.2" cy="175.0" r="2.75"/><circle cx="1073.4" cy="175.0" r="2.75"/><circle cx="1085.6" cy="175.0" r="2.75"/><circle cx="1097.8" cy="175.0" r="2.75"/><circle cx="1110.1" cy="175.0" r="2.75"/><circle cx="1122.3" cy="175.0" r="2.75"/><circle cx="1134.5" cy="175.0" r="2.75"/><circle cx="1146.7" cy="175.0" r="2.75"/><circle cx="1159.0" cy="175.0" r="2.75"/><circle cx="1171.2" cy="175.0" r="2.75"/><circle cx="1183.4" cy="175.0" r="2.75"/><circle cx="1195.6" cy="175.0" r="2.75"/><circle cx="994.0" cy="187.2" r="2.75"/><circle cx="1006.2" cy="187.2" r="2.75"/><circle cx="1018.4" cy="187.2" r="2.75"/><circle cx="1030.6" cy="187.2" r="2.75"/><circle cx="1042.9" cy="187.2" r="2.75"/><circle cx="1055.1" cy="187.2" r="2.75"/><circle cx="1067.3" cy="187.2" r="2.75"/><circle cx="1079.5" cy="187.2" r="2.75"/><circle cx="1091.7" cy="187.2" r="2.75"/><circle cx="1104.0" cy="187.2" r="2.75"/><circle cx="1116.2" cy="187.2" r="2.75"/><circle cx="1128.4" cy="187.2" r="2.75"/><circle cx="1140.6" cy="187.2" r="2.75"/><circle cx="1152.8" cy="187.2" r="2.75"/><circle cx="1165.1" cy="187.2" r="2.75"/><circle cx="1177.3" cy="187.2" r="2.75"/><circle cx="1189.5" cy="187.2" r="2.75"/><circle cx="963.4" cy="199.4" r="2.75"/><circle cx="975.7" cy="199.4" r="2.75"/><circle cx="987.9" cy="199.4" r="2.75"/><circle cx="1000.1" cy="199.4" r="2.75"/><circle cx="1012.3" cy="199.4" r="2.75"/><circle cx="1024.5" cy="199.4" r="2.75"/><circle cx="1036.8" cy="199.4" r="2.75"/><circle cx="1049.0" cy="199.4" r="2.75"/><circle cx="1061.2" cy="199.4" r="2.75"/><circle cx="1073.4" cy="199.4" r="2.75"/><circle cx="1085.6" cy="199.4" r="2.75"/><circle cx="1097.8" cy="199.4" r="2.75"/><circle cx="1110.1" cy="199.4" r="2.75"/><circle cx="1122.3" cy="199.4" r="2.75"/><circle cx="1134.5" cy="199.4" r="2.75"/><circle cx="1146.7" cy="199.4" r="2.75"/><circle cx="1159.0" cy="199.4" r="2.75"/><circle cx="1171.2" cy="199.4" r="2.75"/><circle cx="1183.4" cy="199.4" r="2.75"/><circle cx="1195.6" cy="199.4" r="2.75"/><circle cx="1207.8" cy="199.4" r="2.75"/><circle cx="957.3" cy="211.6" r="2.75"/><circle cx="969.5" cy="211.6" r="2.75"/><circle cx="981.8" cy="211.6" r="2.75"/><circle cx="994.0" cy="211.6" r="2.75"/><circle cx="1006.2" cy="211.6" r="2.75"/><circle cx="1018.4" cy="211.6" r="2.75"/><circle cx="1030.6" cy="211.6" r="2.75"/><circle cx="1042.9" cy="211.6" r="2.75"/><circle cx="1055.1" cy="211.6" r="2.75"/><circle cx="1067.3" cy="211.6" r="2.75"/><circle cx="1079.5" cy="211.6" r="2.75"/><circle cx="1091.7" cy="211.6" r="2.75"/><circle cx="1104.0" cy="211.6" r="2.75"/><circle cx="1116.2" cy="211.6" r="2.75"/><circle cx="1128.4" cy="211.6" r="2.75"/><circle cx="1140.6" cy="211.6" r="2.75"/><circle cx="1152.8" cy="211.6" r="2.75"/><circle cx="1165.1" cy="211.6" r="2.75"/><circle cx="1177.3" cy="211.6" r="2.75"/><circle cx="1189.5" cy="211.6" r="2.75"/><circle cx="1201.7" cy="211.6" r="2.75"/><circle cx="1213.9" cy="211.6" r="2.75"/><circle cx="1226.2" cy="211.6" r="2.75"/><circle cx="963.4" cy="223.8" r="2.75"/><circle cx="975.7" cy="223.8" r="2.75"/><circle cx="987.9" cy="223.8" r="2.75"/><circle cx="1000.1" cy="223.8" r="2.75"/><circle cx="1012.3" cy="223.8" r="2.75"/><circle cx="1024.5" cy="223.8" r="2.75"/><circle cx="1036.8" cy="223.8" r="2.75"/><circle cx="1049.0" cy="223.8" r="2.75"/><circle cx="1061.2" cy="223.8" r="2.75"/><circle cx="1073.4" cy="223.8" r="2.75"/><circle cx="1085.6" cy="223.8" r="2.75"/><circle cx="1097.8" cy="223.8" r="2.75"/><circle cx="1110.1" cy="223.8" r="2.75"/><circle cx="1122.3" cy="223.8" r="2.75"/><circle cx="1134.5" cy="223.8" r="2.75"/><circle cx="1146.7" cy="223.8" r="2.75"/><circle cx="1159.0" cy="223.8" r="2.75"/><circle cx="1171.2" cy="223.8" r="2.75"/><circle cx="1183.4" cy="223.8" r="2.75"/><circle cx="1195.6" cy="223.8" r="2.75"/><circle cx="1207.8" cy="223.8" r="2.75"/><circle cx="1220.1" cy="223.8" r="2.75"/><circle cx="1232.3" cy="223.8" r="2.75"/><circle cx="957.3" cy="236.0" r="2.75"/><circle cx="969.5" cy="236.0" r="2.75"/><circle cx="981.8" cy="236.0" r="2.75"/><circle cx="994.0" cy="236.0" r="2.75"/><circle cx="1006.2" cy="236.0" r="2.75"/><circle cx="1018.4" cy="236.0" r="2.75"/><circle cx="1030.6" cy="236.0" r="2.75"/><circle cx="1042.9" cy="236.0" r="2.75"/><circle cx="1055.1" cy="236.0" r="2.75"/><circle cx="1067.3" cy="236.0" r="2.75"/><circle cx="1079.5" cy="236.0" r="2.75"/><circle cx="1091.7" cy="236.0" r="2.75"/><circle cx="1104.0" cy="236.0" r="2.75"/><circle cx="1116.2" cy="236.0" r="2.75"/><circle cx="1128.4" cy="236.0" r="2.75"/><circle cx="1140.6" cy="236.0" r="2.75"/><circle cx="1152.8" cy="236.0" r="2.75"/><circle cx="1165.1" cy="236.0" r="2.75"/><circle cx="1177.3" cy="236.0" r="2.75"/><circle cx="1189.5" cy="236.0" r="2.75"/><circle cx="1201.7" cy="236.0" r="2.75"/><circle cx="1213.9" cy="236.0" r="2.75"/><circle cx="1226.2" cy="236.0" r="2.75"/><circle cx="963.4" cy="248.2" r="2.75"/><circle cx="975.7" cy="248.2" r="2.75"/><circle cx="987.9" cy="248.2" r="2.75"/><circle cx="1000.1" cy="248.2" r="2.75"/><circle cx="1012.3" cy="248.2" r="2.75"/><circle cx="1024.5" cy="248.2" r="2.75"/><circle cx="1036.8" cy="248.2" r="2.75"/><circle cx="1049.0" cy="248.2" r="2.75"/><circle cx="1061.2" cy="248.2" r="2.75"/><circle cx="1073.4" cy="248.2" r="2.75"/><circle cx="1085.6" cy="248.2" r="2.75"/><circle cx="1097.8" cy="248.2" r="2.75"/><circle cx="1110.1" cy="248.2" r="2.75"/><circle cx="1122.3" cy="248.2" r="2.75"/><circle cx="1134.5" cy="248.2" r="2.75"/><circle cx="1146.7" cy="248.2" r="2.75"/><circle cx="1159.0" cy="248.2" r="2.75"/><circle cx="1171.2" cy="248.2" r="2.75"/><circle cx="1183.4" cy="248.2" r="2.75"/><circle cx="1195.6" cy="248.2" r="2.75"/><circle cx="1207.8" cy="248.2" r="2.75"/><circle cx="1220.1" cy="248.2" r="2.75"/><circle cx="1550.0" cy="248.2" r="2.75"/><circle cx="1562.2" cy="248.2" r="2.75"/><circle cx="1574.4" cy="248.2" r="2.75"/><circle cx="1586.7" cy="248.2" r="2.75"/><circle cx="1598.9" cy="248.2" r="2.75"/><circle cx="957.3" cy="260.4" r="2.75"/><circle cx="969.5" cy="260.4" r="2.75"/><circle cx="981.8" cy="260.4" r="2.75"/><circle cx="994.0" cy="260.4" r="2.75"/><circle cx="1006.2" cy="260.4" r="2.75"/><circle cx="1018.4" cy="260.4" r="2.75"/><circle cx="1030.6" cy="260.4" r="2.75"/><circle cx="1042.9" cy="260.4" r="2.75"/><circle cx="1055.1" cy="260.4" r="2.75"/><circle cx="1067.3" cy="260.4" r="2.75"/><circle cx="1079.5" cy="260.4" r="2.75"/><circle cx="1091.7" cy="260.4" r="2.75"/><circle cx="1104.0" cy="260.4" r="2.75"/><circle cx="1116.2" cy="260.4" r="2.75"/><circle cx="1128.4" cy="260.4" r="2.75"/><circle cx="1140.6" cy="260.4" r="2.75"/><circle cx="1152.8" cy="260.4" r="2.75"/><circle cx="1165.1" cy="260.4" r="2.75"/><circle cx="1177.3" cy="260.4" r="2.75"/><circle cx="1189.5" cy="260.4" r="2.75"/><circle cx="1201.7" cy="260.4" r="2.75"/><circle cx="1213.9" cy="260.4" r="2.75"/><circle cx="1226.2" cy="260.4" r="2.75"/><circle cx="1238.4" cy="260.4" r="2.75"/><circle cx="1250.6" cy="260.4" r="2.75"/><circle cx="1531.7" cy="260.4" r="2.75"/><circle cx="1543.9" cy="260.4" r="2.75"/><circle cx="1556.1" cy="260.4" r="2.75"/><circle cx="1568.3" cy="260.4" r="2.75"/><circle cx="1580.5" cy="260.4" r="2.75"/><circle cx="1592.8" cy="260.4" r="2.75"/><circle cx="1605.0" cy="260.4" r="2.75"/><circle cx="963.4" cy="272.6" r="2.75"/><circle cx="975.7" cy="272.6" r="2.75"/><circle cx="987.9" cy="272.6" r="2.75"/><circle cx="1000.1" cy="272.6" r="2.75"/><circle cx="1012.3" cy="272.6" r="2.75"/><circle cx="1024.5" cy="272.6" r="2.75"/><circle cx="1036.8" cy="272.6" r="2.75"/><circle cx="1049.0" cy="272.6" r="2.75"/><circle cx="1061.2" cy="272.6" r="2.75"/><circle cx="1073.4" cy="272.6" r="2.75"/><circle cx="1085.6" cy="272.6" r="2.75"/><circle cx="1097.8" cy="272.6" r="2.75"/><circle cx="1110.1" cy="272.6" r="2.75"/><circle cx="1122.3" cy="272.6" r="2.75"/><circle cx="1134.5" cy="272.6" r="2.75"/><circle cx="1146.7" cy="272.6" r="2.75"/><circle cx="1159.0" cy="272.6" r="2.75"/><circle cx="1171.2" cy="272.6" r="2.75"/><circle cx="1183.4" cy="272.6" r="2.75"/><circle cx="1195.6" cy="272.6" r="2.75"/><circle cx="1207.8" cy="272.6" r="2.75"/><circle cx="1220.1" cy="272.6" r="2.75"/><circle cx="1232.3" cy="272.6" r="2.75"/><circle cx="1244.5" cy="272.6" r="2.75"/><circle cx="1256.7" cy="272.6" r="2.75"/><circle cx="1268.9" cy="272.6" r="2.75"/><circle cx="1488.9" cy="272.6" r="2.75"/><circle cx="1501.1" cy="272.6" r="2.75"/><circle cx="1513.3" cy="272.6" r="2.75"/><circle cx="1525.6" cy="272.6" r="2.75"/><circle cx="1537.8" cy="272.6" r="2.75"/><circle cx="1550.0" cy="272.6" r="2.75"/><circle cx="1562.2" cy="272.6" r="2.75"/><circle cx="1574.4" cy="272.6" r="2.75"/><circle cx="1586.7" cy="272.6" r="2.75"/><circle cx="1598.9" cy="272.6" r="2.75"/><circle cx="1611.1" cy="272.6" r="2.75"/><circle cx="957.3" cy="284.8" r="2.75"/><circle cx="969.5" cy="284.8" r="2.75"/><circle cx="981.8" cy="284.8" r="2.75"/><circle cx="994.0" cy="284.8" r="2.75"/><circle cx="1006.2" cy="284.8" r="2.75"/><circle cx="1018.4" cy="284.8" r="2.75"/><circle cx="1030.6" cy="284.8" r="2.75"/><circle cx="1042.9" cy="284.8" r="2.75"/><circle cx="1055.1" cy="284.8" r="2.75"/><circle cx="1067.3" cy="284.8" r="2.75"/><circle cx="1079.5" cy="284.8" r="2.75"/><circle cx="1091.7" cy="284.8" r="2.75"/><circle cx="1104.0" cy="284.8" r="2.75"/><circle cx="1116.2" cy="284.8" r="2.75"/><circle cx="1128.4" cy="284.8" r="2.75"/><circle cx="1140.6" cy="284.8" r="2.75"/><circle cx="1152.8" cy="284.8" r="2.75"/><circle cx="1165.1" cy="284.8" r="2.75"/><circle cx="1177.3" cy="284.8" r="2.75"/><circle cx="1189.5" cy="284.8" r="2.75"/><circle cx="1201.7" cy="284.8" r="2.75"/><circle cx="1213.9" cy="284.8" r="2.75"/><circle cx="1226.2" cy="284.8" r="2.75"/><circle cx="1238.4" cy="284.8" r="2.75"/><circle cx="1250.6" cy="284.8" r="2.75"/><circle cx="1262.8" cy="284.8" r="2.75"/><circle cx="1507.2" cy="284.8" r="2.75"/><circle cx="1519.4" cy="284.8" r="2.75"/><circle cx="1531.7" cy="284.8" r="2.75"/><circle cx="1543.9" cy="284.8" r="2.75"/><circle cx="1556.1" cy="284.8" r="2.75"/><circle cx="1568.3" cy="284.8" r="2.75"/><circle cx="1580.5" cy="284.8" r="2.75"/><circle cx="1605.0" cy="284.8" r="2.75"/><circle cx="963.4" cy="297.0" r="2.75"/><circle cx="975.7" cy="297.0" r="2.75"/><circle cx="987.9" cy="297.0" r="2.75"/><circle cx="1000.1" cy="297.0" r="2.75"/><circle cx="1012.3" cy="297.0" r="2.75"/><circle cx="1024.5" cy="297.0" r="2.75"/><circle cx="1036.8" cy="297.0" r="2.75"/><circle cx="1049.0" cy="297.0" r="2.75"/><circle cx="1061.2" cy="297.0" r="2.75"/><circle cx="1073.4" cy="297.0" r="2.75"/><circle cx="1085.6" cy="297.0" r="2.75"/><circle cx="1097.8" cy="297.0" r="2.75"/><circle cx="1110.1" cy="297.0" r="2.75"/><circle cx="1122.3" cy="297.0" r="2.75"/><circle cx="1134.5" cy="297.0" r="2.75"/><circle cx="1146.7" cy="297.0" r="2.75"/><circle cx="1159.0" cy="297.0" r="2.75"/><circle cx="1171.2" cy="297.0" r="2.75"/><circle cx="1183.4" cy="297.0" r="2.75"/><circle cx="1195.6" cy="297.0" r="2.75"/><circle cx="1207.8" cy="297.0" r="2.75"/><circle cx="1220.1" cy="297.0" r="2.75"/><circle cx="1232.3" cy="297.0" r="2.75"/><circle cx="1244.5" cy="297.0" r="2.75"/><circle cx="1256.7" cy="297.0" r="2.75"/><circle cx="1513.3" cy="297.0" r="2.75"/><circle cx="1525.6" cy="297.0" r="2.75"/><circle cx="1537.8" cy="297.0" r="2.75"/><circle cx="1550.0" cy="297.0" r="2.75"/><circle cx="1562.2" cy="297.0" r="2.75"/><circle cx="957.3" cy="309.2" r="2.75"/><circle cx="969.5" cy="309.2" r="2.75"/><circle cx="981.8" cy="309.2" r="2.75"/><circle cx="994.0" cy="309.2" r="2.75"/><circle cx="1006.2" cy="309.2" r="2.75"/><circle cx="1018.4" cy="309.2" r="2.75"/><circle cx="1030.6" cy="309.2" r="2.75"/><circle cx="1042.9" cy="309.2" r="2.75"/><circle cx="1055.1" cy="309.2" r="2.75"/><circle cx="1067.3" cy="309.2" r="2.75"/><circle cx="1079.5" cy="309.2" r="2.75"/><circle cx="1091.7" cy="309.2" r="2.75"/><circle cx="1104.0" cy="309.2" r="2.75"/><circle cx="1116.2" cy="309.2" r="2.75"/><circle cx="1128.4" cy="309.2" r="2.75"/><circle cx="1140.6" cy="309.2" r="2.75"/><circle cx="1152.8" cy="309.2" r="2.75"/><circle cx="1165.1" cy="309.2" r="2.75"/><circle cx="1177.3" cy="309.2" r="2.75"/><circle cx="1189.5" cy="309.2" r="2.75"/><circle cx="1201.7" cy="309.2" r="2.75"/><circle cx="1213.9" cy="309.2" r="2.75"/><circle cx="1226.2" cy="309.2" r="2.75"/><circle cx="1238.4" cy="309.2" r="2.75"/><circle cx="1250.6" cy="309.2" r="2.75"/><circle cx="1507.2" cy="309.2" r="2.75"/><circle cx="1519.4" cy="309.2" r="2.75"/><circle cx="1531.7" cy="309.2" r="2.75"/><circle cx="1543.9" cy="309.2" r="2.75"/><circle cx="1556.1" cy="309.2" r="2.75"/><circle cx="963.4" cy="321.4" r="2.75"/><circle cx="975.7" cy="321.4" r="2.75"/><circle cx="987.9" cy="321.4" r="2.75"/><circle cx="1000.1" cy="321.4" r="2.75"/><circle cx="1012.3" cy="321.4" r="2.75"/><circle cx="1024.5" cy="321.4" r="2.75"/><circle cx="1036.8" cy="321.4" r="2.75"/><circle cx="1049.0" cy="321.4" r="2.75"/><circle cx="1061.2" cy="321.4" r="2.75"/><circle cx="1073.4" cy="321.4" r="2.75"/><circle cx="1085.6" cy="321.4" r="2.75"/><circle cx="1097.8" cy="321.4" r="2.75"/><circle cx="1110.1" cy="321.4" r="2.75"/><circle cx="1122.3" cy="321.4" r="2.75"/><circle cx="1134.5" cy="321.4" r="2.75"/><circle cx="1146.7" cy="321.4" r="2.75"/><circle cx="1159.0" cy="321.4" r="2.75"/><circle cx="1171.2" cy="321.4" r="2.75"/><circle cx="1183.4" cy="321.4" r="2.75"/><circle cx="1195.6" cy="321.4" r="2.75"/><circle cx="1207.8" cy="321.4" r="2.75"/><circle cx="1220.1" cy="321.4" r="2.75"/><circle cx="1232.3" cy="321.4" r="2.75"/><circle cx="1244.5" cy="321.4" r="2.75"/><circle cx="1256.7" cy="321.4" r="2.75"/><circle cx="1513.3" cy="321.4" r="2.75"/><circle cx="1525.6" cy="321.4" r="2.75"/><circle cx="1537.8" cy="321.4" r="2.75"/><circle cx="1550.0" cy="321.4" r="2.75"/><circle cx="1562.2" cy="321.4" r="2.75"/><circle cx="957.3" cy="333.6" r="2.75"/><circle cx="969.5" cy="333.6" r="2.75"/><circle cx="981.8" cy="333.6" r="2.75"/><circle cx="994.0" cy="333.6" r="2.75"/><circle cx="1006.2" cy="333.6" r="2.75"/><circle cx="1018.4" cy="333.6" r="2.75"/><circle cx="1030.6" cy="333.6" r="2.75"/><circle cx="1042.9" cy="333.6" r="2.75"/><circle cx="1055.1" cy="333.6" r="2.75"/><circle cx="1067.3" cy="333.6" r="2.75"/><circle cx="1079.5" cy="333.6" r="2.75"/><circle cx="1091.7" cy="333.6" r="2.75"/><circle cx="1104.0" cy="333.6" r="2.75"/><circle cx="1116.2" cy="333.6" r="2.75"/><circle cx="1128.4" cy="333.6" r="2.75"/><circle cx="1140.6" cy="333.6" r="2.75"/><circle cx="1152.8" cy="333.6" r="2.75"/><circle cx="1165.1" cy="333.6" r="2.75"/><circle cx="1177.3" cy="333.6" r="2.75"/><circle cx="1189.5" cy="333.6" r="2.75"/><circle cx="1201.7" cy="333.6" r="2.75"/><circle cx="1213.9" cy="333.6" r="2.75"/><circle cx="1226.2" cy="333.6" r="2.75"/><circle cx="1238.4" cy="333.6" r="2.75"/><circle cx="1250.6" cy="333.6" r="2.75"/><circle cx="1262.8" cy="333.6" r="2.75"/><circle cx="1507.2" cy="333.6" r="2.75"/><circle cx="1519.4" cy="333.6" r="2.75"/><circle cx="1531.7" cy="333.6" r="2.75"/><circle cx="1543.9" cy="333.6" r="2.75"/><circle cx="1556.1" cy="333.6" r="2.75"/><circle cx="963.4" cy="345.8" r="2.75"/><circle cx="975.7" cy="345.8" r="2.75"/><circle cx="987.9" cy="345.8" r="2.75"/><circle cx="1000.1" cy="345.8" r="2.75"/><circle cx="1012.3" cy="345.8" r="2.75"/><circle cx="1024.5" cy="345.8" r="2.75"/><circle cx="1036.8" cy="345.8" r="2.75"/><circle cx="1049.0" cy="345.8" r="2.75"/><circle cx="1061.2" cy="345.8" r="2.75"/><circle cx="1073.4" cy="345.8" r="2.75"/><circle cx="1085.6" cy="345.8" r="2.75"/><circle cx="1097.8" cy="345.8" r="2.75"/><circle cx="1110.1" cy="345.8" r="2.75"/><circle cx="1122.3" cy="345.8" r="2.75"/><circle cx="1134.5" cy="345.8" r="2.75"/><circle cx="1146.7" cy="345.8" r="2.75"/><circle cx="1159.0" cy="345.8" r="2.75"/><circle cx="1171.2" cy="345.8" r="2.75"/><circle cx="1183.4" cy="345.8" r="2.75"/><circle cx="1195.6" cy="345.8" r="2.75"/><circle cx="1207.8" cy="345.8" r="2.75"/><circle cx="1220.1" cy="345.8" r="2.75"/><circle cx="1232.3" cy="345.8" r="2.75"/><circle cx="1244.5" cy="345.8" r="2.75"/><circle cx="1256.7" cy="345.8" r="2.75"/><circle cx="1268.9" cy="345.8" r="2.75"/><circle cx="1281.2" cy="345.8" r="2.75"/><circle cx="1293.4" cy="345.8" r="2.75"/><circle cx="1525.6" cy="345.8" r="2.75"/><circle cx="1537.8" cy="345.8" r="2.75"/><circle cx="1550.0" cy="345.8" r="2.75"/><circle cx="957.3" cy="358.0" r="2.75"/><circle cx="969.5" cy="358.0" r="2.75"/><circle cx="981.8" cy="358.0" r="2.75"/><circle cx="994.0" cy="358.0" r="2.75"/><circle cx="1006.2" cy="358.0" r="2.75"/><circle cx="1018.4" cy="358.0" r="2.75"/><circle cx="1030.6" cy="358.0" r="2.75"/><circle cx="1042.9" cy="358.0" r="2.75"/><circle cx="1055.1" cy="358.0" r="2.75"/><circle cx="1067.3" cy="358.0" r="2.75"/><circle cx="1079.5" cy="358.0" r="2.75"/><circle cx="1091.7" cy="358.0" r="2.75"/><circle cx="1104.0" cy="358.0" r="2.75"/><circle cx="1116.2" cy="358.0" r="2.75"/><circle cx="1128.4" cy="358.0" r="2.75"/><circle cx="1140.6" cy="358.0" r="2.75"/><circle cx="1152.8" cy="358.0" r="2.75"/><circle cx="1165.1" cy="358.0" r="2.75"/><circle cx="1177.3" cy="358.0" r="2.75"/><circle cx="1189.5" cy="358.0" r="2.75"/><circle cx="1201.7" cy="358.0" r="2.75"/><circle cx="1213.9" cy="358.0" r="2.75"/><circle cx="1226.2" cy="358.0" r="2.75"/><circle cx="1238.4" cy="358.0" r="2.75"/><circle cx="1250.6" cy="358.0" r="2.75"/><circle cx="1262.8" cy="358.0" r="2.75"/><circle cx="1275.0" cy="358.0" r="2.75"/><circle cx="1287.3" cy="358.0" r="2.75"/><circle cx="1299.5" cy="358.0" r="2.75"/><circle cx="1311.7" cy="358.0" r="2.75"/><circle cx="1323.9" cy="358.0" r="2.75"/><circle cx="1336.1" cy="358.0" r="2.75"/><circle cx="1531.7" cy="358.0" r="2.75"/><circle cx="1543.9" cy="358.0" r="2.75"/><circle cx="963.4" cy="370.2" r="2.75"/><circle cx="975.7" cy="370.2" r="2.75"/><circle cx="987.9" cy="370.2" r="2.75"/><circle cx="1000.1" cy="370.2" r="2.75"/><circle cx="1012.3" cy="370.2" r="2.75"/><circle cx="1024.5" cy="370.2" r="2.75"/><circle cx="1036.8" cy="370.2" r="2.75"/><circle cx="1049.0" cy="370.2" r="2.75"/><circle cx="1061.2" cy="370.2" r="2.75"/><circle cx="1073.4" cy="370.2" r="2.75"/><circle cx="1085.6" cy="370.2" r="2.75"/><circle cx="1097.8" cy="370.2" r="2.75"/><circle cx="1110.1" cy="370.2" r="2.75"/><circle cx="1122.3" cy="370.2" r="2.75"/><circle cx="1134.5" cy="370.2" r="2.75"/><circle cx="1146.7" cy="370.2" r="2.75"/><circle cx="1159.0" cy="370.2" r="2.75"/><circle cx="1171.2" cy="370.2" r="2.75"/><circle cx="1183.4" cy="370.2" r="2.75"/><circle cx="1195.6" cy="370.2" r="2.75"/><circle cx="1207.8" cy="370.2" r="2.75"/><circle cx="1220.1" cy="370.2" r="2.75"/><circle cx="1232.3" cy="370.2" r="2.75"/><circle cx="1244.5" cy="370.2" r="2.75"/><circle cx="1256.7" cy="370.2" r="2.75"/><circle cx="1268.9" cy="370.2" r="2.75"/><circle cx="1281.2" cy="370.2" r="2.75"/><circle cx="1293.4" cy="370.2" r="2.75"/><circle cx="1305.6" cy="370.2" r="2.75"/><circle cx="1317.8" cy="370.2" r="2.75"/><circle cx="1330.0" cy="370.2" r="2.75"/><circle cx="1342.2" cy="370.2" r="2.75"/><circle cx="1354.5" cy="370.2" r="2.75"/><circle cx="1366.7" cy="370.2" r="2.75"/><circle cx="1525.6" cy="370.2" r="2.75"/><circle cx="981.8" cy="382.4" r="2.75"/><circle cx="994.0" cy="382.4" r="2.75"/><circle cx="1018.4" cy="382.4" r="2.75"/><circle cx="1030.6" cy="382.4" r="2.75"/><circle cx="1042.9" cy="382.4" r="2.75"/><circle cx="1055.1" cy="382.4" r="2.75"/><circle cx="1067.3" cy="382.4" r="2.75"/><circle cx="1079.5" cy="382.4" r="2.75"/><circle cx="1091.7" cy="382.4" r="2.75"/><circle cx="1104.0" cy="382.4" r="2.75"/><circle cx="1116.2" cy="382.4" r="2.75"/><circle cx="1128.4" cy="382.4" r="2.75"/><circle cx="1140.6" cy="382.4" r="2.75"/><circle cx="1152.8" cy="382.4" r="2.75"/><circle cx="1165.1" cy="382.4" r="2.75"/><circle cx="1177.3" cy="382.4" r="2.75"/><circle cx="1189.5" cy="382.4" r="2.75"/><circle cx="1201.7" cy="382.4" r="2.75"/><circle cx="1213.9" cy="382.4" r="2.75"/><circle cx="1226.2" cy="382.4" r="2.75"/><circle cx="1238.4" cy="382.4" r="2.75"/><circle cx="1250.6" cy="382.4" r="2.75"/><circle cx="1262.8" cy="382.4" r="2.75"/><circle cx="1275.0" cy="382.4" r="2.75"/><circle cx="1287.3" cy="382.4" r="2.75"/><circle cx="1299.5" cy="382.4" r="2.75"/><circle cx="1311.7" cy="382.4" r="2.75"/><circle cx="1323.9" cy="382.4" r="2.75"/><circle cx="1336.1" cy="382.4" r="2.75"/><circle cx="1348.4" cy="382.4" r="2.75"/><circle cx="1360.6" cy="382.4" r="2.75"/><circle cx="1519.4" cy="382.4" r="2.75"/><circle cx="987.9" cy="394.6" r="2.75"/><circle cx="1000.1" cy="394.6" r="2.75"/><circle cx="1012.3" cy="394.6" r="2.75"/><circle cx="1024.5" cy="394.6" r="2.75"/><circle cx="1036.8" cy="394.6" r="2.75"/><circle cx="1049.0" cy="394.6" r="2.75"/><circle cx="1061.2" cy="394.6" r="2.75"/><circle cx="1073.4" cy="394.6" r="2.75"/><circle cx="1085.6" cy="394.6" r="2.75"/><circle cx="1097.8" cy="394.6" r="2.75"/><circle cx="1110.1" cy="394.6" r="2.75"/><circle cx="1122.3" cy="394.6" r="2.75"/><circle cx="1134.5" cy="394.6" r="2.75"/><circle cx="1146.7" cy="394.6" r="2.75"/><circle cx="1159.0" cy="394.6" r="2.75"/><circle cx="1171.2" cy="394.6" r="2.75"/><circle cx="1183.4" cy="394.6" r="2.75"/><circle cx="1195.6" cy="394.6" r="2.75"/><circle cx="1207.8" cy="394.6" r="2.75"/><circle cx="1220.1" cy="394.6" r="2.75"/><circle cx="1232.3" cy="394.6" r="2.75"/><circle cx="1244.5" cy="394.6" r="2.75"/><circle cx="1256.7" cy="394.6" r="2.75"/><circle cx="1268.9" cy="394.6" r="2.75"/><circle cx="1281.2" cy="394.6" r="2.75"/><circle cx="1293.4" cy="394.6" r="2.75"/><circle cx="1305.6" cy="394.6" r="2.75"/><circle cx="1317.8" cy="394.6" r="2.75"/><circle cx="1330.0" cy="394.6" r="2.75"/><circle cx="1342.2" cy="394.6" r="2.75"/><circle cx="1354.5" cy="394.6" r="2.75"/><circle cx="1366.7" cy="394.6" r="2.75"/><circle cx="1378.9" cy="394.6" r="2.75"/><circle cx="1513.3" cy="394.6" r="2.75"/><circle cx="994.0" cy="406.8" r="2.75"/><circle cx="1006.2" cy="406.8" r="2.75"/><circle cx="1018.4" cy="406.8" r="2.75"/><circle cx="1030.6" cy="406.8" r="2.75"/><circle cx="1042.9" cy="406.8" r="2.75"/><circle cx="1079.5" cy="406.8" r="2.75"/><circle cx="1091.7" cy="406.8" r="2.75"/><circle cx="1104.0" cy="406.8" r="2.75"/><circle cx="1116.2" cy="406.8" r="2.75"/><circle cx="1128.4" cy="406.8" r="2.75"/><circle cx="1140.6" cy="406.8" r="2.75"/><circle cx="1152.8" cy="406.8" r="2.75"/><circle cx="1165.1" cy="406.8" r="2.75"/><circle cx="1177.3" cy="406.8" r="2.75"/><circle cx="1189.5" cy="406.8" r="2.75"/><circle cx="1201.7" cy="406.8" r="2.75"/><circle cx="1213.9" cy="406.8" r="2.75"/><circle cx="1226.2" cy="406.8" r="2.75"/><circle cx="1238.4" cy="406.8" r="2.75"/><circle cx="1250.6" cy="406.8" r="2.75"/><circle cx="1262.8" cy="406.8" r="2.75"/><circle cx="1275.0" cy="406.8" r="2.75"/><circle cx="1287.3" cy="406.8" r="2.75"/><circle cx="1299.5" cy="406.8" r="2.75"/><circle cx="1311.7" cy="406.8" r="2.75"/><circle cx="1323.9" cy="406.8" r="2.75"/><circle cx="1336.1" cy="406.8" r="2.75"/><circle cx="1348.4" cy="406.8" r="2.75"/><circle cx="1360.6" cy="406.8" r="2.75"/><circle cx="1372.8" cy="406.8" r="2.75"/><circle cx="1385.0" cy="406.8" r="2.75"/><circle cx="1397.2" cy="406.8" r="2.75"/><circle cx="1409.5" cy="406.8" r="2.75"/><circle cx="1421.7" cy="406.8" r="2.75"/><circle cx="1000.1" cy="419.0" r="2.75"/><circle cx="1012.3" cy="419.0" r="2.75"/><circle cx="1024.5" cy="419.0" r="2.75"/><circle cx="1036.8" cy="419.0" r="2.75"/><circle cx="1061.2" cy="419.0" r="2.75"/><circle cx="1073.4" cy="419.0" r="2.75"/><circle cx="1085.6" cy="419.0" r="2.75"/><circle cx="1097.8" cy="419.0" r="2.75"/><circle cx="1110.1" cy="419.0" r="2.75"/><circle cx="1122.3" cy="419.0" r="2.75"/><circle cx="1134.5" cy="419.0" r="2.75"/><circle cx="1146.7" cy="419.0" r="2.75"/><circle cx="1159.0" cy="419.0" r="2.75"/><circle cx="1171.2" cy="419.0" r="2.75"/><circle cx="1183.4" cy="419.0" r="2.75"/><circle cx="1195.6" cy="419.0" r="2.75"/><circle cx="1207.8" cy="419.0" r="2.75"/><circle cx="1220.1" cy="419.0" r="2.75"/><circle cx="1232.3" cy="419.0" r="2.75"/><circle cx="1244.5" cy="419.0" r="2.75"/><circle cx="1256.7" cy="419.0" r="2.75"/><circle cx="1268.9" cy="419.0" r="2.75"/><circle cx="1281.2" cy="419.0" r="2.75"/><circle cx="1293.4" cy="419.0" r="2.75"/><circle cx="1305.6" cy="419.0" r="2.75"/><circle cx="1317.8" cy="419.0" r="2.75"/><circle cx="1330.0" cy="419.0" r="2.75"/><circle cx="1342.2" cy="419.0" r="2.75"/><circle cx="1354.5" cy="419.0" r="2.75"/><circle cx="1366.7" cy="419.0" r="2.75"/><circle cx="1378.9" cy="419.0" r="2.75"/><circle cx="1018.4" cy="431.2" r="2.75"/><circle cx="1067.3" cy="431.2" r="2.75"/><circle cx="1079.5" cy="431.2" r="2.75"/><circle cx="1091.7" cy="431.2" r="2.75"/><circle cx="1104.0" cy="431.2" r="2.75"/><circle cx="1116.2" cy="431.2" r="2.75"/><circle cx="1128.4" cy="431.2" r="2.75"/><circle cx="1140.6" cy="431.2" r="2.75"/><circle cx="1152.8" cy="431.2" r="2.75"/><circle cx="1165.1" cy="431.2" r="2.75"/><circle cx="1177.3" cy="431.2" r="2.75"/><circle cx="1189.5" cy="431.2" r="2.75"/><circle cx="1201.7" cy="431.2" r="2.75"/><circle cx="1213.9" cy="431.2" r="2.75"/><circle cx="1226.2" cy="431.2" r="2.75"/><circle cx="1238.4" cy="431.2" r="2.75"/><circle cx="1250.6" cy="431.2" r="2.75"/><circle cx="1262.8" cy="431.2" r="2.75"/><circle cx="1275.0" cy="431.2" r="2.75"/><circle cx="1287.3" cy="431.2" r="2.75"/><circle cx="1299.5" cy="431.2" r="2.75"/><circle cx="1311.7" cy="431.2" r="2.75"/><circle cx="1323.9" cy="431.2" r="2.75"/><circle cx="1336.1" cy="431.2" r="2.75"/><circle cx="1348.4" cy="431.2" r="2.75"/><circle cx="1360.6" cy="431.2" r="2.75"/><circle cx="1372.8" cy="431.2" r="2.75"/><circle cx="1061.2" cy="443.4" r="2.75"/><circle cx="1073.4" cy="443.4" r="2.75"/><circle cx="1085.6" cy="443.4" r="2.75"/><circle cx="1097.8" cy="443.4" r="2.75"/><circle cx="1110.1" cy="443.4" r="2.75"/><circle cx="1122.3" cy="443.4" r="2.75"/><circle cx="1134.5" cy="443.4" r="2.75"/><circle cx="1146.7" cy="443.4" r="2.75"/><circle cx="1159.0" cy="443.4" r="2.75"/><circle cx="1171.2" cy="443.4" r="2.75"/><circle cx="1183.4" cy="443.4" r="2.75"/><circle cx="1195.6" cy="443.4" r="2.75"/><circle cx="1207.8" cy="443.4" r="2.75"/><circle cx="1220.1" cy="443.4" r="2.75"/><circle cx="1232.3" cy="443.4" r="2.75"/><circle cx="1244.5" cy="443.4" r="2.75"/><circle cx="1256.7" cy="443.4" r="2.75"/><circle cx="1268.9" cy="443.4" r="2.75"/><circle cx="1281.2" cy="443.4" r="2.75"/><circle cx="1293.4" cy="443.4" r="2.75"/><circle cx="1305.6" cy="443.4" r="2.75"/><circle cx="1317.8" cy="443.4" r="2.75"/><circle cx="1330.0" cy="443.4" r="2.75"/><circle cx="1342.2" cy="443.4" r="2.75"/><circle cx="1354.5" cy="443.4" r="2.75"/><circle cx="1366.7" cy="443.4" r="2.75"/><circle cx="1067.3" cy="455.6" r="2.75"/><circle cx="1079.5" cy="455.6" r="2.75"/><circle cx="1091.7" cy="455.6" r="2.75"/><circle cx="1104.0" cy="455.6" r="2.75"/><circle cx="1116.2" cy="455.6" r="2.75"/><circle cx="1128.4" cy="455.6" r="2.75"/><circle cx="1140.6" cy="455.6" r="2.75"/><circle cx="1152.8" cy="455.6" r="2.75"/><circle cx="1165.1" cy="455.6" r="2.75"/><circle cx="1177.3" cy="455.6" r="2.75"/><circle cx="1189.5" cy="455.6" r="2.75"/><circle cx="1201.7" cy="455.6" r="2.75"/><circle cx="1213.9" cy="455.6" r="2.75"/><circle cx="1226.2" cy="455.6" r="2.75"/><circle cx="1238.4" cy="455.6" r="2.75"/><circle cx="1250.6" cy="455.6" r="2.75"/><circle cx="1262.8" cy="455.6" r="2.75"/><circle cx="1275.0" cy="455.6" r="2.75"/><circle cx="1287.3" cy="455.6" r="2.75"/><circle cx="1299.5" cy="455.6" r="2.75"/><circle cx="1311.7" cy="455.6" r="2.75"/><circle cx="1323.9" cy="455.6" r="2.75"/><circle cx="1336.1" cy="455.6" r="2.75"/><circle cx="1348.4" cy="455.6" r="2.75"/><circle cx="1073.4" cy="467.8" r="2.75"/><circle cx="1085.6" cy="467.8" r="2.75"/><circle cx="1097.8" cy="467.8" r="2.75"/><circle cx="1110.1" cy="467.8" r="2.75"/><circle cx="1122.3" cy="467.8" r="2.75"/><circle cx="1134.5" cy="467.8" r="2.75"/><circle cx="1146.7" cy="467.8" r="2.75"/><circle cx="1159.0" cy="467.8" r="2.75"/><circle cx="1171.2" cy="467.8" r="2.75"/><circle cx="1183.4" cy="467.8" r="2.75"/><circle cx="1195.6" cy="467.8" r="2.75"/><circle cx="1207.8" cy="467.8" r="2.75"/><circle cx="1220.1" cy="467.8" r="2.75"/><circle cx="1232.3" cy="467.8" r="2.75"/><circle cx="1244.5" cy="467.8" r="2.75"/><circle cx="1256.7" cy="467.8" r="2.75"/><circle cx="1268.9" cy="467.8" r="2.75"/><circle cx="1281.2" cy="467.8" r="2.75"/><circle cx="1293.4" cy="467.8" r="2.75"/><circle cx="1305.6" cy="467.8" r="2.75"/><circle cx="1317.8" cy="467.8" r="2.75"/><circle cx="1330.0" cy="467.8" r="2.75"/><circle cx="1067.3" cy="480.0" r="2.75"/><circle cx="1079.5" cy="480.0" r="2.75"/><circle cx="1091.7" cy="480.0" r="2.75"/><circle cx="1104.0" cy="480.0" r="2.75"/><circle cx="1116.2" cy="480.0" r="2.75"/><circle cx="1128.4" cy="480.0" r="2.75"/><circle cx="1140.6" cy="480.0" r="2.75"/><circle cx="1152.8" cy="480.0" r="2.75"/><circle cx="1165.1" cy="480.0" r="2.75"/><circle cx="1177.3" cy="480.0" r="2.75"/><circle cx="1189.5" cy="480.0" r="2.75"/><circle cx="1201.7" cy="480.0" r="2.75"/><circle cx="1213.9" cy="480.0" r="2.75"/><circle cx="1226.2" cy="480.0" r="2.75"/><circle cx="1238.4" cy="480.0" r="2.75"/><circle cx="1250.6" cy="480.0" r="2.75"/><circle cx="1262.8" cy="480.0" r="2.75"/><circle cx="1275.0" cy="480.0" r="2.75"/><circle cx="1287.3" cy="480.0" r="2.75"/><circle cx="1299.5" cy="480.0" r="2.75"/><circle cx="1311.7" cy="480.0" r="2.75"/><circle cx="1323.9" cy="480.0" r="2.75"/><circle cx="1073.4" cy="492.2" r="2.75"/><circle cx="1085.6" cy="492.2" r="2.75"/><circle cx="1097.8" cy="492.2" r="2.75"/><circle cx="1110.1" cy="492.2" r="2.75"/><circle cx="1122.3" cy="492.2" r="2.75"/><circle cx="1134.5" cy="492.2" r="2.75"/><circle cx="1146.7" cy="492.2" r="2.75"/><circle cx="1159.0" cy="492.2" r="2.75"/><circle cx="1171.2" cy="492.2" r="2.75"/><circle cx="1183.4" cy="492.2" r="2.75"/><circle cx="1195.6" cy="492.2" r="2.75"/><circle cx="1207.8" cy="492.2" r="2.75"/><circle cx="1220.1" cy="492.2" r="2.75"/><circle cx="1232.3" cy="492.2" r="2.75"/><circle cx="1244.5" cy="492.2" r="2.75"/><circle cx="1256.7" cy="492.2" r="2.75"/><circle cx="1268.9" cy="492.2" r="2.75"/><circle cx="1281.2" cy="492.2" r="2.75"/><circle cx="1293.4" cy="492.2" r="2.75"/><circle cx="1305.6" cy="492.2" r="2.75"/><circle cx="1079.5" cy="504.4" r="2.75"/><circle cx="1091.7" cy="504.4" r="2.75"/><circle cx="1104.0" cy="504.4" r="2.75"/><circle cx="1116.2" cy="504.4" r="2.75"/><circle cx="1128.4" cy="504.4" r="2.75"/><circle cx="1140.6" cy="504.4" r="2.75"/><circle cx="1152.8" cy="504.4" r="2.75"/><circle cx="1165.1" cy="504.4" r="2.75"/><circle cx="1177.3" cy="504.4" r="2.75"/><circle cx="1189.5" cy="504.4" r="2.75"/><circle cx="1201.7" cy="504.4" r="2.75"/><circle cx="1213.9" cy="504.4" r="2.75"/><circle cx="1226.2" cy="504.4" r="2.75"/><circle cx="1238.4" cy="504.4" r="2.75"/><circle cx="1250.6" cy="504.4" r="2.75"/><circle cx="1262.8" cy="504.4" r="2.75"/><circle cx="1275.0" cy="504.4" r="2.75"/><circle cx="1287.3" cy="504.4" r="2.75"/><circle cx="1085.6" cy="516.6" r="2.75"/><circle cx="1097.8" cy="516.6" r="2.75"/><circle cx="1110.1" cy="516.6" r="2.75"/><circle cx="1122.3" cy="516.6" r="2.75"/><circle cx="1134.5" cy="516.6" r="2.75"/><circle cx="1146.7" cy="516.6" r="2.75"/><circle cx="1159.0" cy="516.6" r="2.75"/><circle cx="1171.2" cy="516.6" r="2.75"/><circle cx="1183.4" cy="516.6" r="2.75"/><circle cx="1195.6" cy="516.6" r="2.75"/><circle cx="1207.8" cy="516.6" r="2.75"/><circle cx="1220.1" cy="516.6" r="2.75"/><circle cx="1232.3" cy="516.6" r="2.75"/><circle cx="1244.5" cy="516.6" r="2.75"/><circle cx="1256.7" cy="516.6" r="2.75"/><circle cx="1268.9" cy="516.6" r="2.75"/><circle cx="1281.2" cy="516.6" r="2.75"/><circle cx="1079.5" cy="528.8" r="2.75"/><circle cx="1091.7" cy="528.8" r="2.75"/><circle cx="1104.0" cy="528.8" r="2.75"/><circle cx="1116.2" cy="528.8" r="2.75"/><circle cx="1128.4" cy="528.8" r="2.75"/><circle cx="1140.6" cy="528.8" r="2.75"/><circle cx="1152.8" cy="528.8" r="2.75"/><circle cx="1165.1" cy="528.8" r="2.75"/><circle cx="1177.3" cy="528.8" r="2.75"/><circle cx="1189.5" cy="528.8" r="2.75"/><circle cx="1201.7" cy="528.8" r="2.75"/><circle cx="1213.9" cy="528.8" r="2.75"/><circle cx="1226.2" cy="528.8" r="2.75"/><circle cx="1238.4" cy="528.8" r="2.75"/><circle cx="1250.6" cy="528.8" r="2.75"/><circle cx="1262.8" cy="528.8" r="2.75"/><circle cx="1085.6" cy="541.0" r="2.75"/><circle cx="1097.8" cy="541.0" r="2.75"/><circle cx="1110.1" cy="541.0" r="2.75"/><circle cx="1122.3" cy="541.0" r="2.75"/><circle cx="1134.5" cy="541.0" r="2.75"/><circle cx="1146.7" cy="541.0" r="2.75"/><circle cx="1159.0" cy="541.0" r="2.75"/><circle cx="1171.2" cy="541.0" r="2.75"/><circle cx="1183.4" cy="541.0" r="2.75"/><circle cx="1195.6" cy="541.0" r="2.75"/><circle cx="1207.8" cy="541.0" r="2.75"/><circle cx="1220.1" cy="541.0" r="2.75"/><circle cx="1232.3" cy="541.0" r="2.75"/><circle cx="1244.5" cy="541.0" r="2.75"/><circle cx="1091.7" cy="553.2" r="2.75"/><circle cx="1104.0" cy="553.2" r="2.75"/><circle cx="1116.2" cy="553.2" r="2.75"/><circle cx="1128.4" cy="553.2" r="2.75"/><circle cx="1140.6" cy="553.2" r="2.75"/><circle cx="1152.8" cy="553.2" r="2.75"/><circle cx="1165.1" cy="553.2" r="2.75"/><circle cx="1177.3" cy="553.2" r="2.75"/><circle cx="1189.5" cy="553.2" r="2.75"/><circle cx="1201.7" cy="553.2" r="2.75"/><circle cx="1213.9" cy="553.2" r="2.75"/><circle cx="1226.2" cy="553.2" r="2.75"/><circle cx="1097.8" cy="565.4" r="2.75"/><circle cx="1110.1" cy="565.4" r="2.75"/><circle cx="1122.3" cy="565.4" r="2.75"/><circle cx="1134.5" cy="565.4" r="2.75"/><circle cx="1146.7" cy="565.4" r="2.75"/><circle cx="1159.0" cy="565.4" r="2.75"/><circle cx="1171.2" cy="565.4" r="2.75"/><circle cx="1183.4" cy="565.4" r="2.75"/><circle cx="1195.6" cy="565.4" r="2.75"/><circle cx="1207.8" cy="565.4" r="2.75"/><circle cx="1220.1" cy="565.4" r="2.75"/><circle cx="1104.0" cy="577.6" r="2.75"/><circle cx="1116.2" cy="577.6" r="2.75"/><circle cx="1128.4" cy="577.6" r="2.75"/><circle cx="1140.6" cy="577.6" r="2.75"/><circle cx="1152.8" cy="577.6" r="2.75"/><circle cx="1165.1" cy="577.6" r="2.75"/><circle cx="1177.3" cy="577.6" r="2.75"/><circle cx="1189.5" cy="577.6" r="2.75"/><circle cx="1201.7" cy="577.6" r="2.75"/><circle cx="1213.9" cy="577.6" r="2.75"/><circle cx="1226.2" cy="577.6" r="2.75"/><circle cx="1110.1" cy="589.8" r="2.75"/><circle cx="1122.3" cy="589.8" r="2.75"/><circle cx="1134.5" cy="589.8" r="2.75"/><circle cx="1146.7" cy="589.8" r="2.75"/><circle cx="1159.0" cy="589.8" r="2.75"/><circle cx="1171.2" cy="589.8" r="2.75"/><circle cx="1183.4" cy="589.8" r="2.75"/><circle cx="1195.6" cy="589.8" r="2.75"/><circle cx="1207.8" cy="589.8" r="2.75"/><circle cx="1220.1" cy="589.8" r="2.75"/><circle cx="1116.2" cy="602.0" r="2.75"/><circle cx="1128.4" cy="602.0" r="2.75"/><circle cx="1140.6" cy="602.0" r="2.75"/><circle cx="1152.8" cy="602.0" r="2.75"/><circle cx="1165.1" cy="602.0" r="2.75"/><circle cx="1177.3" cy="602.0" r="2.75"/><circle cx="1189.5" cy="602.0" r="2.75"/><circle cx="1201.7" cy="602.0" r="2.75"/><circle cx="1213.9" cy="602.0" r="2.75"/><circle cx="1226.2" cy="602.0" r="2.75"/><circle cx="1122.3" cy="614.2" r="2.75"/><circle cx="1134.5" cy="614.2" r="2.75"/><circle cx="1146.7" cy="614.2" r="2.75"/><circle cx="1159.0" cy="614.2" r="2.75"/><circle cx="1171.2" cy="614.2" r="2.75"/><circle cx="1183.4" cy="614.2" r="2.75"/><circle cx="1195.6" cy="614.2" r="2.75"/><circle cx="1207.8" cy="614.2" r="2.75"/><circle cx="1220.1" cy="614.2" r="2.75"/><circle cx="1128.4" cy="626.4" r="2.75"/><circle cx="1140.6" cy="626.4" r="2.75"/><circle cx="1152.8" cy="626.4" r="2.75"/><circle cx="1165.1" cy="626.4" r="2.75"/><circle cx="1177.3" cy="626.4" r="2.75"/><circle cx="1189.5" cy="626.4" r="2.75"/><circle cx="1201.7" cy="626.4" r="2.75"/><circle cx="1213.9" cy="626.4" r="2.75"/><circle cx="1226.2" cy="626.4" r="2.75"/><circle cx="1134.5" cy="638.6" r="2.75"/><circle cx="1146.7" cy="638.6" r="2.75"/><circle cx="1159.0" cy="638.6" r="2.75"/><circle cx="1171.2" cy="638.6" r="2.75"/><circle cx="1183.4" cy="638.6" r="2.75"/><circle cx="1195.6" cy="638.6" r="2.75"/><circle cx="1207.8" cy="638.6" r="2.75"/><circle cx="1220.1" cy="638.6" r="2.75"/><circle cx="1140.6" cy="650.8" r="2.75"/><circle cx="1152.8" cy="650.8" r="2.75"/><circle cx="1165.1" cy="650.8" r="2.75"/><circle cx="1177.3" cy="650.8" r="2.75"/><circle cx="1189.5" cy="650.8" r="2.75"/><circle cx="1201.7" cy="650.8" r="2.75"/><circle cx="1213.9" cy="650.8" r="2.75"/><circle cx="1146.7" cy="663.0" r="2.75"/><circle cx="1159.0" cy="663.0" r="2.75"/><circle cx="1171.2" cy="663.0" r="2.75"/><circle cx="1183.4" cy="663.0" r="2.75"/><circle cx="1195.6" cy="663.0" r="2.75"/><circle cx="1207.8" cy="663.0" r="2.75"/><circle cx="1220.1" cy="663.0" r="2.75"/><circle cx="1152.8" cy="675.2" r="2.75"/><circle cx="1165.1" cy="675.2" r="2.75"/><circle cx="1177.3" cy="675.2" r="2.75"/><circle cx="1189.5" cy="675.2" r="2.75"/><circle cx="1201.7" cy="675.2" r="2.75"/><circle cx="1146.7" cy="687.4" r="2.75"/><circle cx="1159.0" cy="687.4" r="2.75"/><circle cx="1171.2" cy="687.4" r="2.75"/><circle cx="1183.4" cy="687.4" r="2.75"/><circle cx="1195.6" cy="687.4" r="2.75"/><circle cx="1152.8" cy="699.6" r="2.75"/><circle cx="1165.1" cy="699.6" r="2.75"/><circle cx="1177.3" cy="699.6" r="2.75"/><circle cx="1159.0" cy="711.8" r="2.75"/><circle cx="1171.2" cy="711.8" r="2.75"/></g>
</g>
<line x1="998.9" y1="59.0" x2="998.9" y2="722.5" stroke="#dcdcdc" stroke-width="1.2" stroke-opacity="0.7"/>
<line x1="1112.5" y1="59.0" x2="1112.5" y2="722.5" stroke="#dcdcdc" stroke-width="1.2" stroke-opacity="0.7"/>
<line x1="1226.1" y1="59.0" x2="1226.1" y2="722.5" stroke="#dcdcdc" stroke-width="1.2" stroke-opacity="0.7"/>
<line x1="1339.6" y1="59.0" x2="1339.6" y2="722.5" stroke="#dcdcdc" stroke-width="1.2" stroke-opacity="0.7"/>
<line x1="1453.2" y1="59.0" x2="1453.2" y2="722.5" stroke="#dcdcdc" stroke-width="1.2" stroke-opacity="0.7"/>
<line x1="1566.8" y1="59.0" x2="1566.8" y2="722.5" stroke="#dcdcdc" stroke-width="1.2" stroke-opacity="0.7"/>
<line x1="954.5" y1="678.0" x2="1635.0" y2="678.0" stroke="#dcdcdc" stroke-width="1.2" stroke-opacity="0.7"/>
<line x1="954.5" y1="564.4" x2="1635.0" y2="564.4" stroke="#dcdcdc" stroke-width="1.2" stroke-opacity="0.7"/>
<line x1="954.5" y1="450.8" x2="1635.0" y2="450.8" stroke="#dcdcdc" stroke-width="1.2" stroke-opacity="0.7"/>
<line x1="954.5" y1="337.2" x2="1635.0" y2="337.2" stroke="#dcdcdc" stroke-width="1.2" stroke-opacity="0.7"/>
<line x1="954.5" y1="223.6" x2="1635.0" y2="223.6" stroke="#dcdcdc" stroke-width="1.2" stroke-opacity="0.7"/>
<line x1="954.5" y1="110.0" x2="1635.0" y2="110.0" stroke="#dcdcdc" stroke-width="1.2" stroke-opacity="0.7"/>
<polyline points="1427.8,393.4 1433.0,400.0 1434.0,410.0 1426.0,413.0 1415.0,412.0 1406.0,409.7 1386.7,417.0 1381.9,426.6 1386.7,433.8 1374.6,448.3 1350.4,455.6 1333.5,472.5 1314.2,489.4 1302.1,499.1 1290.0,509.0 1278.3,521.4 1265.7,529.0 1253.0,536.6 1240.4,544.1 1230.3,551.7 1227.8,561.8 1227.8,582.0 1230.3,594.6 1230.3,607.3 1225.3,632.5 1222.3,640.0 1224.2,652.3 1223.6,664.5 1223.0,671.9 1214.4,672.0 1208.9,672.5 1206.0,678.0 1202.5,684.0 1200.3,690.9 1192.9,694.0 1185.6,697.6 1183.1,704.4 1180.7,712.3 1174.5,717.3 1167.2,718.5 1159.2,713.6 1147.0,688.1 1136.9,665.4 1126.8,642.6 1116.7,627.5 1106.6,602.2 1101.5,584.5 1091.4,564.3 1083.8,544.1 1076.3,523.9 1071.2,501.2 1066.2,481.0 1061.1,463.3 1058.6,450.7 1061.1,430.5 1059.0,422.0 1064.0,414.0 1070.0,411.0 1068.0,399.0 1060.0,395.0 1052.0,395.0 1046.0,402.0 1048.0,412.0 1044.0,419.0 1033.3,427.6 1019.8,433.2 1009.5,430.8 997.6,421.3 985.7,409.4 976.2,401.4 975.4,395.9 989.7,393.5 1000.0,389.5 1008.0,386.0 1010.3,380.8 993.7,385.2 981.7,385.6 969.8,379.2 961.9,372.0 957.0,366.0 961.0,361.0 969.8,359.4" fill="none" stroke="#000" stroke-width="4" stroke-linejoin="round"/>
<polyline points="969.8,359.4 972.4,353.3 986.0,353.5 1000.6,353.3 1015.3,350.8 1023.9,347.1 1022.0,340.0 1020.2,334.9 1014.1,321.4 1001.8,316.5 1000.6,301.8 987.1,295.6 988.3,285.8 1000.0,276.0 1009.2,268.7 1015.3,274.8 1042.3,269.9 1052.1,251.5 1071.7,236.8 1076.6,224.5 1088.9,213.5 1098.0,204.0 1104.4,195.2 1101.8,185.1 1104.4,175.0 1113.2,172.4 1119.5,173.7 1120.8,168.7 1114.5,164.9 1105.6,161.1 1095.5,157.3 1082.9,153.5 1079.1,143.4 1077.8,130.8 1076.6,123.2 1080.4,118.1 1088.0,113.1 1093.0,108.0 1089.2,103.0 1082.9,99.2 1074.0,92.9 1064.0,89.1 1057.6,86.6 1056.4,81.5 1064.0,75.2 1070.3,70.2 1082.9,67.6 1093.0,65.1 1101.8,63.2 1110.7,62.6 1119.5,63.2 1124.6,67.6 1130.9,72.7 1141.0,77.7 1149.8,82.8 1156.1,89.1 1165.0,95.4 1177.6,95.4 1190.2,91.6 1202.8,87.8 1213.0,87.2 1224.3,91.0 1233.2,96.7 1231.9,108.0 1224.3,116.9 1213.0,125.7 1204.1,130.8 1201.6,138.3 1207.9,143.4 1214.2,148.4 1218.0,159.8 1209.2,166.1 1200.3,171.2 1195.3,178.8 1200.3,188.9 1209.2,196.4 1221.8,202.7 1234.4,210.3 1247.0,216.6 1250.0,220.0 1235.0,229.0 1230.4,248.4 1240.0,253.0 1264.0,263.0 1288.0,273.5 1305.0,277.5 1321.4,279.8 1333.5,287.0 1338.3,294.3 1357.7,295.5 1386.7,301.5 1408.4,304.0 1408.4,284.6 1410.9,270.0 1423.0,266.5 1429.0,270.0 1427.8,282.2 1432.6,293.0 1459.2,294.3 1495.5,293.0 1500.3,284.6 1488.2,272.5 1502.7,272.5 1517.2,262.8 1531.7,254.4 1546.2,248.3 1558.3,238.7 1580.0,241.0 1592.2,236.3 1601.8,246.0 1604.2,258.0 1621.2,262.8 1622.4,270.0 1614.0,277.4 1616.3,289.4 1594.6,282.2 1580.0,291.9 1568.0,301.5 1563.1,335.4 1555.9,345.0 1548.6,364.4 1531.7,359.5 1526.9,376.5 1524.5,398.2 1519.6,405.5 1512.4,403.0 1507.5,383.7 1504.0,366.0 1497.0,365.0 1493.0,373.0 1487.0,385.0 1482.0,376.0 1479.0,364.0 1483.4,357.1 1495.5,349.9 1507.5,340.2 1505.1,333.0 1483.4,331.7 1449.5,330.5 1447.1,313.6 1442.3,308.8 1435.0,313.6 1425.4,308.8 1413.3,311.2 1410.9,318.4 1423.0,325.7 1430.2,330.5 1415.7,335.4 1408.4,342.6 1420.5,349.9 1420.5,364.4 1425.4,376.5 1427.8,393.4" fill="none" stroke="#333" stroke-width="5" stroke-linejoin="round"/>
<polyline points="1485.0,386.0 1490.6,391.0 1493.0,400.0 1495.5,414.5 1502.7,426.6 1514.8,438.7 1522.0,448.3 1536.6,455.6 1543.8,465.3 1548.6,477.4 1555.9,496.7 1558.3,506.4 1555.9,518.4 1551.0,530.5 1548.6,540.2 1556.0,543.0 1563.1,545.0 1577.6,545.0 1592.2,535.4 1604.2,525.7 1609.0,511.2 1616.3,516.0 1628.4,530.5 1630.8,549.9 1635.2,578.9" fill="none" stroke="#000" stroke-width="2.2" stroke-linejoin="round"/>
<polyline points="1435.0,410.0 1441.0,407.6 1442.6,400.0 1444.0,405.0 1450.0,401.0 1452.0,406.0 1456.0,407.0 1462.0,403.0 1466.0,396.0 1470.0,400.0 1476.0,397.0 1482.0,390.0 1485.0,386.0" fill="none" stroke="#000" stroke-width="2.2" stroke-linejoin="round"/>
<ellipse cx="962" cy="365" rx="8" ry="6" fill="#000"/>
<polygon points="1404.4,393.9 1416.4,402.6 1421.9,390.6 1432.8,390.6 1435.0,409.2 1430.6,416.3 1410.9,416.9 1400.0,412.0 1405.5,406.5" fill="#000" stroke="#000" stroke-width="1.5" stroke-linejoin="round"/>
<polyline points="1458.0,369.5 1468.0,372.0" fill="none" stroke="#000" stroke-width="2"/>
<polyline points="1466.0,369.0 1465.0,380.0 1466.0,393.0" fill="none" stroke="#000" stroke-width="2.4"/>
<polygon points="1476.5,394.0 1481.0,394.0 1481.0,404.0 1476.5,404.0" fill="#000"/>
<polyline points="1222.3,684.1 1226.6,682.3 1232.2,682.3 1235.8,687.8 1242.0,692.1 1248.1,700.1 1254.2,707.4 1257.9,713.6 1259.7,723.0" fill="none" stroke="#000" stroke-width="3" stroke-linejoin="round"/>
<polyline points="1229.1,686.6 1228.5,694.0 1223.6,699.5 1224.8,704.4 1222.3,713.6 1221.1,723.0" fill="none" stroke="#000" stroke-width="3" stroke-linejoin="round"/>
<polyline points="1222.3,684.1 1229.1,686.6" fill="none" stroke="#000" stroke-width="3.5"/>
<polyline points="1200.9,690.9 1211.3,692.1 1214.4,697.0" fill="none" stroke="#000" stroke-width="3.5" stroke-linecap="round"/>
<polygon points="1522.4,591.5 1526.6,595.7 1526.1,611.4 1523.5,621.8 1526.6,627.1 1526.1,638.6 1521.4,638.6 1518.2,648.0 1516.1,653.2 1514.1,655.3 1515.1,666.8 1509.9,667.8 1505.7,665.8 1505.7,658.4 1508.8,653.2 1509.9,644.8 1508.8,632.3 1512.0,621.8 1512.0,607.2 1515.1,597.8" fill="#000" stroke="#000" stroke-width="1"/>
<circle cx="1516.7" cy="696.1" r="3.8" fill="#000"/>
<polygon points="1520.0,708.0 1525.0,706.0 1530.0,714.0 1533.0,706.0 1538.0,705.0 1539.0,722.0 1522.0,722.0" fill="#000"/>
<circle cx="1068.7" cy="715.9" r="2.6" fill="#000"/>
<polygon points="1048.0,393.5 1062.0,393.0 1070.0,395.0 1070.0,400.0 1063.0,401.0 1064.0,403.0 1071.0,404.0 1071.0,410.0 1063.0,411.0 1061.0,420.0 1054.0,421.0 1051.0,411.0 1048.0,408.0 1050.0,400.0" fill="#000"/>
<circle cx="1042.4" cy="624.3" r="2.6" fill="none" stroke="#222" stroke-width="2"/>
<circle cx="1039.8" cy="634.4" r="2.6" fill="none" stroke="#222" stroke-width="2"/>
<circle cx="1048.4" cy="642.3" r="2.6" fill="none" stroke="#222" stroke-width="2"/>
<circle cx="1045.7" cy="650.6" r="2.6" fill="none" stroke="#222" stroke-width="2"/>
<circle cx="1048.9" cy="658.4" r="2.6" fill="none" stroke="#222" stroke-width="2"/>
<circle cx="1091.1" cy="648.8" r="2.6" fill="none" stroke="#222" stroke-width="2"/>
<circle cx="1082" cy="675.6" r="2.6" fill="none" stroke="#222" stroke-width="2"/>
<circle cx="1051.2" cy="676.4" r="2.6" fill="none" stroke="#222" stroke-width="2"/>
<circle cx="1504.6" cy="642.2" r="2.6" fill="none" stroke="#222" stroke-width="2"/>
<circle cx="1052.7" cy="655.4" r="2.6" fill="none" stroke="#555" stroke-width="1.3"/>
<circle cx="1060.6" cy="639.2" r="2.6" fill="none" stroke="#555" stroke-width="1.3"/>
<circle cx="1067.4" cy="643.8" r="2.6" fill="none" stroke="#555" stroke-width="1.3"/>
<circle cx="1058.8" cy="664.7" r="2.6" fill="none" stroke="#555" stroke-width="1.3"/>
<circle cx="1082.8" cy="659.4" r="2.6" fill="none" stroke="#555" stroke-width="1.3"/>
<circle cx="1550.7" cy="599.3" r="2.6" fill="none" stroke="#555" stroke-width="1.3"/>
<circle cx="1541.2" cy="626" r="2.6" fill="none" stroke="#555" stroke-width="1.3"/>
<circle cx="1503.6" cy="655.3" r="2.6" fill="none" stroke="#555" stroke-width="1.3"/>
</g>
<rect x="954.5" y="59.0" width="680.5" height="663.5" fill="none" stroke="#000" stroke-width="2.6"/>
<text transform="translate(1000.1,761.5) scale(1.05,1)" class="mt" text-anchor="middle">70°E</text>
<text transform="translate(1113.7,761.5) scale(1.05,1)" class="mt" text-anchor="middle">75°E</text>
<text transform="translate(1227.3,761.5) scale(1.05,1)" class="mt" text-anchor="middle">80°E</text>
<text transform="translate(1340.8,761.5) scale(1.05,1)" class="mt" text-anchor="middle">85°E</text>
<text transform="translate(1454.4,761.5) scale(1.05,1)" class="mt" text-anchor="middle">90°E</text>
<text transform="translate(1568.0,761.5) scale(1.05,1)" class="mt" text-anchor="middle">95°E</text>
</g>
<polygon points="1760.5,89.1 1783.25,58.8 1806.0,89.1" fill="#e3221c"/>
<polygon points="1760.5,693.0 1783.25,723.4 1806.0,693.0" fill="#500a73"/>
<rect x="1760.5" y="87.6" width="45.5" height="62.099999999999994" fill="#e3221c"/>
<rect x="1760.5" y="149.2" width="45.5" height="61.10000000000002" fill="#fe7100"/>
<rect x="1760.5" y="209.8" width="45.5" height="61.19999999999999" fill="#fdc52f"/>
<rect x="1760.5" y="270.5" width="45.5" height="60.19999999999999" fill="#fde273"/>
<rect x="1760.5" y="330.2" width="45.5" height="61.30000000000001" fill="#fef4d5"/>
<rect x="1760.5" y="391.0" width="45.5" height="61.5" fill="#ecd1fa"/>
<rect x="1760.5" y="452.0" width="45.5" height="60.5" fill="#dcabf5"/>
<rect x="1760.5" y="512.0" width="45.5" height="60.700000000000045" fill="#c47af0"/>
<rect x="1760.5" y="572.2" width="45.5" height="60.799999999999955" fill="#910fdc"/>
<rect x="1760.5" y="632.5" width="45.5" height="62.0" fill="#500a73"/>
<polygon points="1760.5,89.1 1783.25,58.8 1806.0,89.1 1806.0,693.0 1783.25,723.4 1760.5,693.0" fill="none" stroke="#000" stroke-width="2"/>
<line x1="1806.0" y1="149.2" x2="1827.0" y2="149.2" stroke="#000" stroke-width="2.2"/>
<text x="1837.5" y="163.5" class="cb">0.04</text>
<line x1="1806.0" y1="270.5" x2="1827.0" y2="270.5" stroke="#000" stroke-width="2.2"/>
<text x="1837.5" y="284.8" class="cb">0.02</text>
<line x1="1806.0" y1="391.0" x2="1827.0" y2="391.0" stroke="#000" stroke-width="2.2"/>
<text x="1837.5" y="405.3" class="cb">0.00</text>
<line x1="1806.0" y1="512.0" x2="1827.0" y2="512.0" stroke="#000" stroke-width="2.2"/>
<text x="1837.5" y="526.3" class="cb">−0.02</text>
<line x1="1806.0" y1="632.5" x2="1827.0" y2="632.5" stroke="#000" stroke-width="2.2"/>
<text x="1837.5" y="646.8" class="cb">−0.04</text>
<text transform="translate(1996.5,393) rotate(-90)" class="cbl" text-anchor="middle">°C/year</text>
<rect x="59.5" y="870.4" width="912.7" height="419.19999999999993" fill="none" stroke="#1a1a1a" stroke-width="2.6"/>
<line x1="49.0" y1="1289.2" x2="59.5" y2="1289.2" stroke="#1a1a1a" stroke-width="2.4"/>
<line x1="972.2" y1="1289.2" x2="982.7" y2="1289.2" stroke="#1a1a1a" stroke-width="2.4"/>
<text transform="translate(40.0,1301.0) scale(1.03,1)" class="tl" text-anchor="end">24</text>
<line x1="49.0" y1="1205.4" x2="59.5" y2="1205.4" stroke="#1a1a1a" stroke-width="2.4"/>
<line x1="972.2" y1="1205.4" x2="982.7" y2="1205.4" stroke="#1a1a1a" stroke-width="2.4"/>
<text transform="translate(40.0,1217.2) scale(1.03,1)" class="tl" text-anchor="end">25</text>
<line x1="49.0" y1="1121.7" x2="59.5" y2="1121.7" stroke="#1a1a1a" stroke-width="2.4"/>
<line x1="972.2" y1="1121.7" x2="982.7" y2="1121.7" stroke="#1a1a1a" stroke-width="2.4"/>
<text transform="translate(40.0,1133.5) scale(1.03,1)" class="tl" text-anchor="end">26</text>
<line x1="49.0" y1="1037.9" x2="59.5" y2="1037.9" stroke="#1a1a1a" stroke-width="2.4"/>
<line x1="972.2" y1="1037.9" x2="982.7" y2="1037.9" stroke="#1a1a1a" stroke-width="2.4"/>
<text transform="translate(40.0,1049.7) scale(1.03,1)" class="tl" text-anchor="end">27</text>
<line x1="49.0" y1="954.1" x2="59.5" y2="954.1" stroke="#1a1a1a" stroke-width="2.4"/>
<line x1="972.2" y1="954.1" x2="982.7" y2="954.1" stroke="#1a1a1a" stroke-width="2.4"/>
<text transform="translate(40.0,965.9) scale(1.03,1)" class="tl" text-anchor="end">28</text>
<line x1="49.0" y1="870.4" x2="59.5" y2="870.4" stroke="#1a1a1a" stroke-width="2.4"/>
<line x1="972.2" y1="870.4" x2="982.7" y2="870.4" stroke="#1a1a1a" stroke-width="2.4"/>
<text transform="translate(40.0,882.2) scale(1.03,1)" class="tl" text-anchor="end">29</text>
<line x1="88.9" y1="859.9" x2="88.9" y2="870.4" stroke="#1a1a1a" stroke-width="2.4"/>
<line x1="88.9" y1="1289.6" x2="88.9" y2="1300.1" stroke="#1a1a1a" stroke-width="2.4"/>
<text x="89.2" y="1339.5" class="xt" text-anchor="middle">1980</text>
<line x1="236.2" y1="859.9" x2="236.2" y2="870.4" stroke="#1a1a1a" stroke-width="2.4"/>
<line x1="236.2" y1="1289.6" x2="236.2" y2="1300.1" stroke="#1a1a1a" stroke-width="2.4"/>
<text x="236.5" y="1339.5" class="xt" text-anchor="middle">1985</text>
<line x1="383.4" y1="859.9" x2="383.4" y2="870.4" stroke="#1a1a1a" stroke-width="2.4"/>
<line x1="383.4" y1="1289.6" x2="383.4" y2="1300.1" stroke="#1a1a1a" stroke-width="2.4"/>
<text x="383.7" y="1339.5" class="xt" text-anchor="middle">1990</text>
<line x1="530.6" y1="859.9" x2="530.6" y2="870.4" stroke="#1a1a1a" stroke-width="2.4"/>
<line x1="530.6" y1="1289.6" x2="530.6" y2="1300.1" stroke="#1a1a1a" stroke-width="2.4"/>
<text x="530.9" y="1339.5" class="xt" text-anchor="middle">1995</text>
<line x1="677.8" y1="859.9" x2="677.8" y2="870.4" stroke="#1a1a1a" stroke-width="2.4"/>
<line x1="677.8" y1="1289.6" x2="677.8" y2="1300.1" stroke="#1a1a1a" stroke-width="2.4"/>
<text x="678.1" y="1339.5" class="xt" text-anchor="middle">2000</text>
<line x1="825.0" y1="859.9" x2="825.0" y2="870.4" stroke="#1a1a1a" stroke-width="2.4"/>
<line x1="825.0" y1="1289.6" x2="825.0" y2="1300.1" stroke="#1a1a1a" stroke-width="2.4"/>
<text x="825.3" y="1339.5" class="xt" text-anchor="middle">2005</text>
<line x1="972.2" y1="859.9" x2="972.2" y2="870.4" stroke="#1a1a1a" stroke-width="2.4"/>
<line x1="972.2" y1="1289.6" x2="972.2" y2="1300.1" stroke="#1a1a1a" stroke-width="2.4"/>
<text x="972.5" y="1339.5" class="xt" text-anchor="middle">2010</text>
<line x1="61.5" y1="1052.7" x2="964.2" y2="998.668" stroke="#f00" stroke-width="2.2" stroke-dasharray="10,6"/>
<line x1="61.5" y1="1131.7" x2="964.2" y2="1111.131" stroke="#000" stroke-width="2.2" stroke-dasharray="10,6"/>
<polyline points="59.5,1045.8 88.9,1029.9 118.4,1036 147.8,1048.3 177.3,1063 206.7,1044.6 236.2,1053.2 265.6,1032.4 295.0,1033.6 324.5,1049.5 353.9,1032.4 383.4,1021.3 412.8,998.5 442.2,1074.8 471.7,1064.2 501.1,1046.8 530.6,1044.5 560.0,1024.6 589.5,1022.1 618.9,1027.1 648.3,1012.2 677.8,1010.4 707.2,1007.2 736.7,996.8 766.1,999.8 795.5,996.5 825.0,992.8 854.4,1012.9 883.9,1010.9 913.3,1002.7 942.8,1012.2 972.2,993.5" fill="none" stroke="#f00" stroke-width="2.7" stroke-linejoin="round"/>
<circle cx="59.5" cy="1045.8" r="6.2" fill="none" stroke="#f00" stroke-width="2.8"/>
<circle cx="88.9" cy="1029.9" r="6.2" fill="none" stroke="#f00" stroke-width="2.8"/>
<circle cx="118.4" cy="1036" r="6.2" fill="none" stroke="#f00" stroke-width="2.8"/>
<circle cx="147.8" cy="1048.3" r="6.2" fill="none" stroke="#f00" stroke-width="2.8"/>
<circle cx="177.3" cy="1063" r="6.2" fill="none" stroke="#f00" stroke-width="2.8"/>
<circle cx="206.7" cy="1044.6" r="6.2" fill="none" stroke="#f00" stroke-width="2.8"/>
<circle cx="236.2" cy="1053.2" r="6.2" fill="none" stroke="#f00" stroke-width="2.8"/>
<circle cx="265.6" cy="1032.4" r="6.2" fill="none" stroke="#f00" stroke-width="2.8"/>
<circle cx="295.0" cy="1033.6" r="6.2" fill="none" stroke="#f00" stroke-width="2.8"/>
<circle cx="324.5" cy="1049.5" r="6.2" fill="none" stroke="#f00" stroke-width="2.8"/>
<circle cx="353.9" cy="1032.4" r="6.2" fill="none" stroke="#f00" stroke-width="2.8"/>
<circle cx="383.4" cy="1021.3" r="6.2" fill="none" stroke="#f00" stroke-width="2.8"/>
<circle cx="412.8" cy="998.5" r="6.2" fill="none" stroke="#f00" stroke-width="2.8"/>
<circle cx="442.2" cy="1074.8" r="6.2" fill="none" stroke="#f00" stroke-width="2.8"/>
<circle cx="471.7" cy="1064.2" r="6.2" fill="none" stroke="#f00" stroke-width="2.8"/>
<circle cx="501.1" cy="1046.8" r="6.2" fill="none" stroke="#f00" stroke-width="2.8"/>
<circle cx="530.6" cy="1044.5" r="6.2" fill="none" stroke="#f00" stroke-width="2.8"/>
<circle cx="560.0" cy="1024.6" r="6.2" fill="none" stroke="#f00" stroke-width="2.8"/>
<circle cx="589.5" cy="1022.1" r="6.2" fill="none" stroke="#f00" stroke-width="2.8"/>
<circle cx="618.9" cy="1027.1" r="6.2" fill="none" stroke="#f00" stroke-width="2.8"/>
<circle cx="648.3" cy="1012.2" r="6.2" fill="none" stroke="#f00" stroke-width="2.8"/>
<circle cx="677.8" cy="1010.4" r="6.2" fill="none" stroke="#f00" stroke-width="2.8"/>
<circle cx="707.2" cy="1007.2" r="6.2" fill="none" stroke="#f00" stroke-width="2.8"/>
<circle cx="736.7" cy="996.8" r="6.2" fill="none" stroke="#f00" stroke-width="2.8"/>
<circle cx="766.1" cy="999.8" r="6.2" fill="none" stroke="#f00" stroke-width="2.8"/>
<circle cx="795.5" cy="996.5" r="6.2" fill="none" stroke="#f00" stroke-width="2.8"/>
<circle cx="825.0" cy="992.8" r="6.2" fill="none" stroke="#f00" stroke-width="2.8"/>
<circle cx="854.4" cy="1012.9" r="6.2" fill="none" stroke="#f00" stroke-width="2.8"/>
<circle cx="883.9" cy="1010.9" r="6.2" fill="none" stroke="#f00" stroke-width="2.8"/>
<circle cx="913.3" cy="1002.7" r="6.2" fill="none" stroke="#f00" stroke-width="2.8"/>
<circle cx="942.8" cy="1012.2" r="6.2" fill="none" stroke="#f00" stroke-width="2.8"/>
<circle cx="972.2" cy="993.5" r="6.2" fill="none" stroke="#f00" stroke-width="2.8"/>
<polyline points="59.5,1110.1 88.9,1089.5 118.4,1123.1 147.8,1140.3 177.3,1130.5 206.7,1124.3 236.2,1139.8 265.6,1133.7 295.0,1106.4 324.5,1076.5 353.9,1192.5 383.4,1153.8 412.8,1122.4 442.2,1135.4 471.7,1113.3 501.1,1157.3 530.6,1114.6 560.0,1136.9 589.5,1163.3 618.9,1051.9 648.3,1154.6 677.8,1117.8 707.2,1131.5 736.7,1084.8 766.1,1118.3 795.5,1128.5 825.0,1134 854.4,1116.1 883.9,1073.8 913.3,1130.2 942.8,1122 972.2,1052.4" fill="none" stroke="#000" stroke-width="2.7" stroke-linejoin="round"/>
<circle cx="59.5" cy="1110.1" r="6.2" fill="none" stroke="#000" stroke-width="2.8"/>
<circle cx="88.9" cy="1089.5" r="6.2" fill="none" stroke="#000" stroke-width="2.8"/>
<circle cx="118.4" cy="1123.1" r="6.2" fill="none" stroke="#000" stroke-width="2.8"/>
<circle cx="147.8" cy="1140.3" r="6.2" fill="none" stroke="#000" stroke-width="2.8"/>
<circle cx="177.3" cy="1130.5" r="6.2" fill="none" stroke="#000" stroke-width="2.8"/>
<circle cx="206.7" cy="1124.3" r="6.2" fill="none" stroke="#000" stroke-width="2.8"/>
<circle cx="236.2" cy="1139.8" r="6.2" fill="none" stroke="#000" stroke-width="2.8"/>
<circle cx="265.6" cy="1133.7" r="6.2" fill="none" stroke="#000" stroke-width="2.8"/>
<circle cx="295.0" cy="1106.4" r="6.2" fill="none" stroke="#000" stroke-width="2.8"/>
<circle cx="324.5" cy="1076.5" r="6.2" fill="none" stroke="#000" stroke-width="2.8"/>
<circle cx="353.9" cy="1192.5" r="6.2" fill="none" stroke="#000" stroke-width="2.8"/>
<circle cx="383.4" cy="1153.8" r="6.2" fill="none" stroke="#000" stroke-width="2.8"/>
<circle cx="412.8" cy="1122.4" r="6.2" fill="none" stroke="#000" stroke-width="2.8"/>
<circle cx="442.2" cy="1135.4" r="6.2" fill="none" stroke="#000" stroke-width="2.8"/>
<circle cx="471.7" cy="1113.3" r="6.2" fill="none" stroke="#000" stroke-width="2.8"/>
<circle cx="501.1" cy="1157.3" r="6.2" fill="none" stroke="#000" stroke-width="2.8"/>
<circle cx="530.6" cy="1114.6" r="6.2" fill="none" stroke="#000" stroke-width="2.8"/>
<circle cx="560.0" cy="1136.9" r="6.2" fill="none" stroke="#000" stroke-width="2.8"/>
<circle cx="589.5" cy="1163.3" r="6.2" fill="none" stroke="#000" stroke-width="2.8"/>
<circle cx="618.9" cy="1051.9" r="6.2" fill="none" stroke="#000" stroke-width="2.8"/>
<circle cx="648.3" cy="1154.6" r="6.2" fill="none" stroke="#000" stroke-width="2.8"/>
<circle cx="677.8" cy="1117.8" r="6.2" fill="none" stroke="#000" stroke-width="2.8"/>
<circle cx="707.2" cy="1131.5" r="6.2" fill="none" stroke="#000" stroke-width="2.8"/>
<circle cx="736.7" cy="1084.8" r="6.2" fill="none" stroke="#000" stroke-width="2.8"/>
<circle cx="766.1" cy="1118.3" r="6.2" fill="none" stroke="#000" stroke-width="2.8"/>
<circle cx="795.5" cy="1128.5" r="6.2" fill="none" stroke="#000" stroke-width="2.8"/>
<circle cx="825.0" cy="1134" r="6.2" fill="none" stroke="#000" stroke-width="2.8"/>
<circle cx="854.4" cy="1116.1" r="6.2" fill="none" stroke="#000" stroke-width="2.8"/>
<circle cx="883.9" cy="1073.8" r="6.2" fill="none" stroke="#000" stroke-width="2.8"/>
<circle cx="913.3" cy="1130.2" r="6.2" fill="none" stroke="#000" stroke-width="2.8"/>
<circle cx="942.8" cy="1122" r="6.2" fill="none" stroke="#000" stroke-width="2.8"/>
<circle cx="972.2" cy="1052.4" r="6.2" fill="none" stroke="#000" stroke-width="2.8"/>
<text transform="translate(73.5,914.0) scale(1.025,1)" class="pt">(c) Entire India</text>
<text transform="translate(653.0,905.0) scale(1.023,1)" class="rh">CMIP6 MME</text>
<text transform="translate(653.0,939.0) scale(1.01,1)" class="rs">y = 0.021 * x - 13.93</text>
<text x="655.0" y="967.5" class="rs">p &lt; 0.05</text>
<text transform="translate(647.5,1209.3) scale(1.055,1)" class="kh">ERA5</text>
<text transform="translate(648.0,1232.3) scale(1.01,1)" class="ks">y = 0.008 * x + 10.04</text>
<text x="650.5" y="1264.0" class="ks">p = 0.25</text>
<rect x="1058.0" y="868.6" width="913.4000000000001" height="419.80000000000007" fill="none" stroke="#1a1a1a" stroke-width="2.6"/>
<line x1="1047.5" y1="1288.4" x2="1058.0" y2="1288.4" stroke="#1a1a1a" stroke-width="2.4"/>
<line x1="1971.4" y1="1288.4" x2="1981.9" y2="1288.4" stroke="#1a1a1a" stroke-width="2.4"/>
<text transform="translate(1038.5,1300.2) scale(1.03,1)" class="tl" text-anchor="end">30</text>
<line x1="1047.5" y1="1183.5" x2="1058.0" y2="1183.5" stroke="#1a1a1a" stroke-width="2.4"/>
<line x1="1971.4" y1="1183.5" x2="1981.9" y2="1183.5" stroke="#1a1a1a" stroke-width="2.4"/>
<text transform="translate(1038.5,1195.3) scale(1.03,1)" class="tl" text-anchor="end">31</text>
<line x1="1047.5" y1="1078.5" x2="1058.0" y2="1078.5" stroke="#1a1a1a" stroke-width="2.4"/>
<line x1="1971.4" y1="1078.5" x2="1981.9" y2="1078.5" stroke="#1a1a1a" stroke-width="2.4"/>
<text transform="translate(1038.5,1090.3) scale(1.03,1)" class="tl" text-anchor="end">32</text>
<line x1="1047.5" y1="973.6" x2="1058.0" y2="973.6" stroke="#1a1a1a" stroke-width="2.4"/>
<line x1="1971.4" y1="973.6" x2="1981.9" y2="973.6" stroke="#1a1a1a" stroke-width="2.4"/>
<text transform="translate(1038.5,985.4) scale(1.03,1)" class="tl" text-anchor="end">33</text>
<line x1="1047.5" y1="868.6" x2="1058.0" y2="868.6" stroke="#1a1a1a" stroke-width="2.4"/>
<line x1="1971.4" y1="868.6" x2="1981.9" y2="868.6" stroke="#1a1a1a" stroke-width="2.4"/>
<text transform="translate(1038.5,880.4) scale(1.03,1)" class="tl" text-anchor="end">34</text>
<line x1="1087.5" y1="858.1" x2="1087.5" y2="868.6" stroke="#1a1a1a" stroke-width="2.4"/>
<line x1="1087.5" y1="1288.4" x2="1087.5" y2="1298.9" stroke="#1a1a1a" stroke-width="2.4"/>
<text x="1087.8" y="1339.5" class="xt" text-anchor="middle">1980</text>
<line x1="1234.8" y1="858.1" x2="1234.8" y2="868.6" stroke="#1a1a1a" stroke-width="2.4"/>
<line x1="1234.8" y1="1288.4" x2="1234.8" y2="1298.9" stroke="#1a1a1a" stroke-width="2.4"/>
<text x="1235.1" y="1339.5" class="xt" text-anchor="middle">1985</text>
<line x1="1382.1" y1="858.1" x2="1382.1" y2="868.6" stroke="#1a1a1a" stroke-width="2.4"/>
<line x1="1382.1" y1="1288.4" x2="1382.1" y2="1298.9" stroke="#1a1a1a" stroke-width="2.4"/>
<text x="1382.4" y="1339.5" class="xt" text-anchor="middle">1990</text>
<line x1="1529.4" y1="858.1" x2="1529.4" y2="868.6" stroke="#1a1a1a" stroke-width="2.4"/>
<line x1="1529.4" y1="1288.4" x2="1529.4" y2="1298.9" stroke="#1a1a1a" stroke-width="2.4"/>
<text x="1529.7" y="1339.5" class="xt" text-anchor="middle">1995</text>
<line x1="1676.8" y1="858.1" x2="1676.8" y2="868.6" stroke="#1a1a1a" stroke-width="2.4"/>
<line x1="1676.8" y1="1288.4" x2="1676.8" y2="1298.9" stroke="#1a1a1a" stroke-width="2.4"/>
<text x="1677.1" y="1339.5" class="xt" text-anchor="middle">2000</text>
<line x1="1824.1" y1="858.1" x2="1824.1" y2="868.6" stroke="#1a1a1a" stroke-width="2.4"/>
<line x1="1824.1" y1="1288.4" x2="1824.1" y2="1298.9" stroke="#1a1a1a" stroke-width="2.4"/>
<text x="1824.4" y="1339.5" class="xt" text-anchor="middle">2005</text>
<line x1="1971.4" y1="858.1" x2="1971.4" y2="868.6" stroke="#1a1a1a" stroke-width="2.4"/>
<line x1="1971.4" y1="1288.4" x2="1971.4" y2="1298.9" stroke="#1a1a1a" stroke-width="2.4"/>
<text x="1971.7" y="1339.5" class="xt" text-anchor="middle">2010</text>
<line x1="1060.0" y1="1167.3" x2="1963.4" y2="1076.4279999999999" stroke="#f00" stroke-width="2.2" stroke-dasharray="10,6"/>
<line x1="1060.0" y1="1155.3" x2="1963.4" y2="1094.2069999999999" stroke="#000" stroke-width="2.2" stroke-dasharray="10,6"/>
<polyline points="1058.0,1139.4 1087.5,1021.3 1116.9,1106.4 1146.4,1199 1175.9,1227.6 1205.3,1086.2 1234.8,1157 1264.3,1147.7 1293.7,1134.6 1323.2,1027 1352.6,1249.6 1382.1,1095.7 1411.6,1130.8 1441.0,1221 1470.5,1109.5 1500.0,1195.2 1529.4,1172.1 1558.9,1187 1588.4,1266.3 1617.8,1079 1647.3,1113 1676.8,1036.8 1706.2,1110.2 1735.7,1010.8 1765.1,1161 1794.6,1051.4 1824.1,1205.1 1853.5,1053 1883.0,1034 1912.5,1137.1 1941.9,1115.6 1971.4,1008.3" fill="none" stroke="#000" stroke-width="2.7" stroke-linejoin="round"/>
<circle cx="1058.0" cy="1139.4" r="6.2" fill="none" stroke="#000" stroke-width="2.8"/>
<circle cx="1087.5" cy="1021.3" r="6.2" fill="none" stroke="#000" stroke-width="2.8"/>
<circle cx="1116.9" cy="1106.4" r="6.2" fill="none" stroke="#000" stroke-width="2.8"/>
<circle cx="1146.4" cy="1199" r="6.2" fill="none" stroke="#000" stroke-width="2.8"/>
<circle cx="1175.9" cy="1227.6" r="6.2" fill="none" stroke="#000" stroke-width="2.8"/>
<circle cx="1205.3" cy="1086.2" r="6.2" fill="none" stroke="#000" stroke-width="2.8"/>
<circle cx="1234.8" cy="1157" r="6.2" fill="none" stroke="#000" stroke-width="2.8"/>
<circle cx="1264.3" cy="1147.7" r="6.2" fill="none" stroke="#000" stroke-width="2.8"/>
<circle cx="1293.7" cy="1134.6" r="6.2" fill="none" stroke="#000" stroke-width="2.8"/>
<circle cx="1323.2" cy="1027" r="6.2" fill="none" stroke="#000" stroke-width="2.8"/>
<circle cx="1352.6" cy="1249.6" r="6.2" fill="none" stroke="#000" stroke-width="2.8"/>
<circle cx="1382.1" cy="1095.7" r="6.2" fill="none" stroke="#000" stroke-width="2.8"/>
<circle cx="1411.6" cy="1130.8" r="6.2" fill="none" stroke="#000" stroke-width="2.8"/>
<circle cx="1441.0" cy="1221" r="6.2" fill="none" stroke="#000" stroke-width="2.8"/>
<circle cx="1470.5" cy="1109.5" r="6.2" fill="none" stroke="#000" stroke-width="2.8"/>
<circle cx="1500.0" cy="1195.2" r="6.2" fill="none" stroke="#000" stroke-width="2.8"/>
<circle cx="1529.4" cy="1172.1" r="6.2" fill="none" stroke="#000" stroke-width="2.8"/>
<circle cx="1558.9" cy="1187" r="6.2" fill="none" stroke="#000" stroke-width="2.8"/>
<circle cx="1588.4" cy="1266.3" r="6.2" fill="none" stroke="#000" stroke-width="2.8"/>
<circle cx="1617.8" cy="1079" r="6.2" fill="none" stroke="#000" stroke-width="2.8"/>
<circle cx="1647.3" cy="1113" r="6.2" fill="none" stroke="#000" stroke-width="2.8"/>
<circle cx="1676.8" cy="1036.8" r="6.2" fill="none" stroke="#000" stroke-width="2.8"/>
<circle cx="1706.2" cy="1110.2" r="6.2" fill="none" stroke="#000" stroke-width="2.8"/>
<circle cx="1735.7" cy="1010.8" r="6.2" fill="none" stroke="#000" stroke-width="2.8"/>
<circle cx="1765.1" cy="1161" r="6.2" fill="none" stroke="#000" stroke-width="2.8"/>
<circle cx="1794.6" cy="1051.4" r="6.2" fill="none" stroke="#000" stroke-width="2.8"/>
<circle cx="1824.1" cy="1205.1" r="6.2" fill="none" stroke="#000" stroke-width="2.8"/>
<circle cx="1853.5" cy="1053" r="6.2" fill="none" stroke="#000" stroke-width="2.8"/>
<circle cx="1883.0" cy="1034" r="6.2" fill="none" stroke="#000" stroke-width="2.8"/>
<circle cx="1912.5" cy="1137.1" r="6.2" fill="none" stroke="#000" stroke-width="2.8"/>
<circle cx="1941.9" cy="1115.6" r="6.2" fill="none" stroke="#000" stroke-width="2.8"/>
<circle cx="1971.4" cy="1008.3" r="6.2" fill="none" stroke="#000" stroke-width="2.8"/>
<polyline points="1058.0,1151.8 1087.5,1124.3 1116.9,1146.3 1146.4,1181.1 1175.9,1192.3 1205.3,1140.6 1234.8,1174.4 1264.3,1130.8 1293.7,1134.6 1323.2,1149.4 1352.6,1110.5 1382.1,1120 1411.6,1117.9 1441.0,1168.5 1470.5,1159.4 1500.0,1151.8 1529.4,1157.5 1558.9,1119.7 1588.4,1102.9 1617.8,1141.9 1647.3,1083.2 1676.8,1090.8 1706.2,1087 1735.7,1057.8 1765.1,1088.6 1794.6,1087.9 1824.1,1069.5 1853.5,1093.3 1883.0,1096.5 1912.5,1065.7 1941.9,1110.8 1971.4,1069.5" fill="none" stroke="#f00" stroke-width="2.7" stroke-linejoin="round"/>
<circle cx="1058.0" cy="1151.8" r="6.2" fill="none" stroke="#f00" stroke-width="2.8"/>
<circle cx="1087.5" cy="1124.3" r="6.2" fill="none" stroke="#f00" stroke-width="2.8"/>
<circle cx="1116.9" cy="1146.3" r="6.2" fill="none" stroke="#f00" stroke-width="2.8"/>
<circle cx="1146.4" cy="1181.1" r="6.2" fill="none" stroke="#f00" stroke-width="2.8"/>
<circle cx="1175.9" cy="1192.3" r="6.2" fill="none" stroke="#f00" stroke-width="2.8"/>
<circle cx="1205.3" cy="1140.6" r="6.2" fill="none" stroke="#f00" stroke-width="2.8"/>
<circle cx="1234.8" cy="1174.4" r="6.2" fill="none" stroke="#f00" stroke-width="2.8"/>
<circle cx="1264.3" cy="1130.8" r="6.2" fill="none" stroke="#f00" stroke-width="2.8"/>
<circle cx="1293.7" cy="1134.6" r="6.2" fill="none" stroke="#f00" stroke-width="2.8"/>
<circle cx="1323.2" cy="1149.4" r="6.2" fill="none" stroke="#f00" stroke-width="2.8"/>
<circle cx="1352.6" cy="1110.5" r="6.2" fill="none" stroke="#f00" stroke-width="2.8"/>
<circle cx="1382.1" cy="1120" r="6.2" fill="none" stroke="#f00" stroke-width="2.8"/>
<circle cx="1411.6" cy="1117.9" r="6.2" fill="none" stroke="#f00" stroke-width="2.8"/>
<circle cx="1441.0" cy="1168.5" r="6.2" fill="none" stroke="#f00" stroke-width="2.8"/>
<circle cx="1470.5" cy="1159.4" r="6.2" fill="none" stroke="#f00" stroke-width="2.8"/>
<circle cx="1500.0" cy="1151.8" r="6.2" fill="none" stroke="#f00" stroke-width="2.8"/>
<circle cx="1529.4" cy="1157.5" r="6.2" fill="none" stroke="#f00" stroke-width="2.8"/>
<circle cx="1558.9" cy="1119.7" r="6.2" fill="none" stroke="#f00" stroke-width="2.8"/>
<circle cx="1588.4" cy="1102.9" r="6.2" fill="none" stroke="#f00" stroke-width="2.8"/>
<circle cx="1617.8" cy="1141.9" r="6.2" fill="none" stroke="#f00" stroke-width="2.8"/>
<circle cx="1647.3" cy="1083.2" r="6.2" fill="none" stroke="#f00" stroke-width="2.8"/>
<circle cx="1676.8" cy="1090.8" r="6.2" fill="none" stroke="#f00" stroke-width="2.8"/>
<circle cx="1706.2" cy="1087" r="6.2" fill="none" stroke="#f00" stroke-width="2.8"/>
<circle cx="1735.7" cy="1057.8" r="6.2" fill="none" stroke="#f00" stroke-width="2.8"/>
<circle cx="1765.1" cy="1088.6" r="6.2" fill="none" stroke="#f00" stroke-width="2.8"/>
<circle cx="1794.6" cy="1087.9" r="6.2" fill="none" stroke="#f00" stroke-width="2.8"/>
<circle cx="1824.1" cy="1069.5" r="6.2" fill="none" stroke="#f00" stroke-width="2.8"/>
<circle cx="1853.5" cy="1093.3" r="6.2" fill="none" stroke="#f00" stroke-width="2.8"/>
<circle cx="1883.0" cy="1096.5" r="6.2" fill="none" stroke="#f00" stroke-width="2.8"/>
<circle cx="1912.5" cy="1065.7" r="6.2" fill="none" stroke="#f00" stroke-width="2.8"/>
<circle cx="1941.9" cy="1110.8" r="6.2" fill="none" stroke="#f00" stroke-width="2.8"/>
<circle cx="1971.4" cy="1069.5" r="6.2" fill="none" stroke="#f00" stroke-width="2.8"/>
<text transform="translate(1070.0,909.3) scale(1.018,1)" class="pt">(d) Northwest India</text>
<text transform="translate(1718.0,902.0) scale(1.01,1)" class="rh">CMIP6 MME</text>
<text x="1723.0" y="935.6" class="rs">y = 0.028 * x - 24.64</text>
<text x="1723.0" y="966.3" class="rs">p &lt; 0.05</text>
<text transform="translate(1658.5,1214.6) scale(1.055,1)" class="kh">ERA5</text>
<text x="1659.0" y="1241.9" class="ks">y = 0.019 * x - 6.11</text>
<text x="1659.0" y="1269.5" class="ks">p = 0.15</text>
<text transform="translate(1030.2,1375.9) scale(1.02,1)" class="xl" text-anchor="middle">Years (1979-2010)</text>
</svg></body></html>
